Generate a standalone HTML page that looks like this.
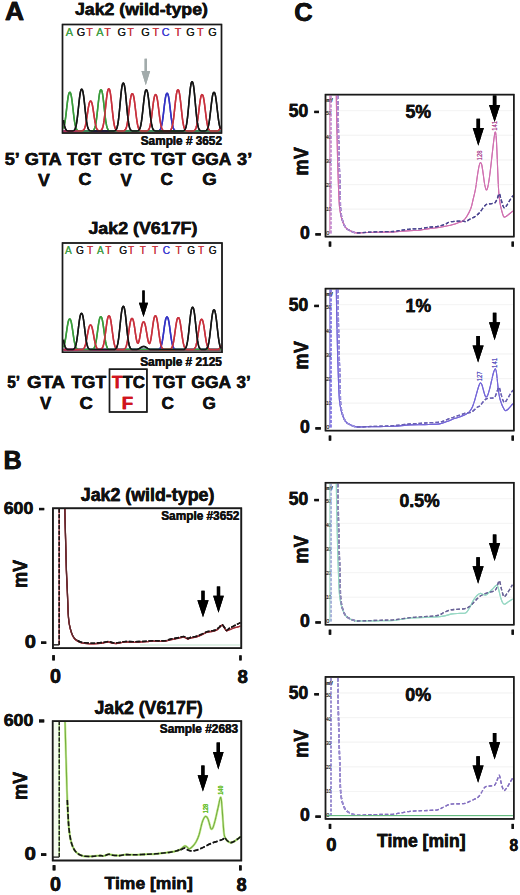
<!DOCTYPE html>
<html><head><meta charset="utf-8"><style>
html,body{margin:0;padding:0;background:#fff;}
svg{display:block;}
text{font-family:"Liberation Sans", sans-serif;}
</style></head><body>
<svg width="520" height="895" viewBox="0 0 520 895">
<rect width="520" height="895" fill="#fff"/>
<text x="5.14" y="19.60" font-size="26.02" font-weight="bold" fill="#111" stroke="#111" stroke-width="0.459" textLength="19.05" lengthAdjust="spacingAndGlyphs">A</text>
<text x="3.51" y="468.50" font-size="25.44" font-weight="bold" fill="#111" stroke="#111" stroke-width="0.449" textLength="18.24" lengthAdjust="spacingAndGlyphs">B</text>
<text x="294.36" y="21.24" font-size="26.69" font-weight="bold" fill="#111" stroke="#111" stroke-width="0.471" textLength="18.34" lengthAdjust="spacingAndGlyphs">C</text>
<text x="74.93" y="15.30" font-size="17.30" font-weight="bold" fill="#111" stroke="#111" stroke-width="0.305" textLength="133.05" lengthAdjust="spacingAndGlyphs">Jak2 (wild-type)</text>
<line x1="63.50" y1="131.80" x2="220.50" y2="131.80" stroke="#c8323e" stroke-width="0.9"/>
<line x1="63.50" y1="131.20" x2="220.50" y2="131.20" stroke="#3434c4" stroke-width="0.6" opacity="0.5"/>
<path d="M63.5,131.00 L157.5,130.97 L158.0,130.93 L158.5,130.85 L159.0,130.69 L159.5,130.40 L160.0,129.90 L160.5,129.10 L161.0,127.89 L161.5,126.14 L162.0,123.77 L162.5,120.76 L163.0,117.13 L163.5,113.04 L164.0,108.71 L164.5,104.45 L165.0,100.58 L165.5,97.39 L166.0,95.09 L166.5,93.75 L167.0,93.31 L167.5,93.48 L168.0,94.44 L168.5,96.35 L169.0,99.21 L169.5,102.84 L170.0,106.98 L170.5,111.32 L171.0,115.54 L171.5,119.37 L172.0,122.64 L172.5,125.27 L173.0,127.26 L173.5,128.67 L174.0,129.62 L174.5,130.23 L175.0,130.59 L175.5,130.79 L176.0,130.90 L176.5,130.96 L177.0,130.98 L220.5,131.00" fill="none" stroke="#3434c4" stroke-width="1.5" stroke-linejoin="round"/>
<path d="M63.5,128.36 L64.0,126.80 L64.5,124.63 L65.0,121.80 L65.5,118.32 L66.0,114.29 L66.5,109.91 L67.0,105.47 L67.5,101.30 L68.0,97.71 L68.5,94.96 L69.0,93.19 L69.5,92.39 L70.0,92.34 L70.5,92.96 L71.0,94.53 L71.5,97.09 L72.0,100.52 L72.5,104.60 L73.0,109.02 L73.5,113.43 L74.0,117.55 L74.5,121.16 L75.0,124.12 L75.5,126.42 L76.0,128.09 L76.5,129.25 L77.0,130.00 L77.5,130.45 L78.0,130.72 L78.5,130.86 L79.0,130.94 L79.5,130.97 L91.0,130.98 L91.5,130.96 L92.0,130.91 L92.5,130.80 L93.0,130.61 L93.5,130.25 L94.0,129.66 L94.5,128.70 L95.0,127.27 L95.5,125.23 L96.0,122.50 L96.5,119.06 L97.0,114.98 L97.5,110.44 L98.0,105.70 L98.5,101.10 L99.0,96.99 L99.5,93.68 L100.0,91.37 L100.5,90.12 L101.0,89.80 L101.5,90.12 L102.0,91.37 L102.5,93.68 L103.0,96.99 L103.5,101.10 L104.0,105.70 L104.5,110.44 L105.0,114.98 L105.5,119.06 L106.0,122.50 L106.5,125.23 L107.0,127.27 L107.5,128.70 L108.0,129.66 L108.5,130.25 L109.0,130.61 L109.5,130.80 L110.0,130.91 L110.5,130.96 L111.0,130.98 L220.5,131.00" fill="none" stroke="#3a9c3c" stroke-width="1.5" stroke-linejoin="round"/>
<path d="M63.5,131.00 L81.0,130.97 L81.5,130.94 L82.0,130.88 L82.5,130.75 L83.0,130.52 L83.5,130.13 L84.0,129.49 L84.5,128.52 L85.0,127.13 L85.5,125.25 L86.0,122.85 L86.5,119.96 L87.0,116.71 L87.5,113.27 L88.0,109.88 L88.5,106.79 L89.0,104.25 L89.5,102.42 L90.0,101.36 L90.5,101.01 L91.0,101.14 L91.5,101.90 L92.0,103.43 L92.5,105.70 L93.0,108.59 L93.5,111.89 L94.0,115.34 L94.5,118.70 L95.0,121.75 L95.5,124.35 L96.0,126.44 L96.5,128.02 L97.0,129.15 L97.5,129.90 L98.0,130.38 L98.5,130.66 L99.0,130.81 L99.5,130.86 L100.0,130.84 L100.5,130.72 L101.0,130.47 L101.5,130.02 L102.0,129.28 L102.5,128.12 L103.0,126.42 L103.5,124.06 L104.0,120.97 L104.5,117.17 L105.0,112.78 L105.5,108.00 L106.0,103.16 L106.5,98.61 L107.0,94.70 L107.5,91.70 L108.0,89.77 L108.5,88.90 L109.0,88.84 L109.5,89.52 L110.0,91.23 L110.5,94.02 L111.0,97.77 L111.5,102.22 L112.0,107.03 L112.5,111.84 L113.0,116.34 L113.5,120.27 L114.0,123.50 L114.5,126.00 L115.0,127.83 L115.5,129.09 L116.0,129.90 L116.5,130.40 L117.0,130.69 L117.5,130.85 L118.0,130.93 L118.5,130.97 L122.5,130.98 L123.0,130.95 L123.5,130.89 L124.0,130.76 L124.5,130.54 L125.0,130.14 L125.5,129.48 L126.0,128.45 L126.5,126.94 L127.0,124.85 L127.5,122.11 L128.0,118.75 L128.5,114.85 L129.0,110.62 L129.5,106.33 L130.0,102.29 L130.5,98.83 L131.0,96.17 L131.5,94.46 L132.0,93.69 L132.5,93.64 L133.0,94.24 L133.5,95.75 L134.0,98.23 L134.5,101.55 L135.0,105.49 L135.5,109.75 L136.0,114.02 L136.5,118.00 L137.0,121.49 L137.5,124.35 L138.0,126.57 L138.5,128.19 L139.0,129.31 L139.5,130.03 L140.0,130.47 L140.5,130.73 L141.0,130.87 L141.5,130.94 L142.0,130.97 L146.0,130.97 L146.5,130.93 L147.0,130.85 L147.5,130.70 L148.0,130.42 L148.5,129.94 L149.0,129.17 L149.5,127.99 L150.0,126.31 L150.5,124.02 L151.0,121.11 L151.5,117.61 L152.0,113.66 L152.5,109.48 L153.0,105.37 L153.5,101.63 L154.0,98.55 L154.5,96.32 L155.0,95.04 L155.5,94.61 L156.0,94.77 L156.5,95.70 L157.0,97.55 L157.5,100.31 L158.0,103.81 L158.5,107.81 L159.0,112.00 L159.5,116.07 L160.0,119.77 L160.5,122.93 L161.0,125.47 L161.5,127.39 L162.0,128.75 L162.5,129.67 L163.0,130.25 L163.5,130.60 L164.0,130.80 L164.5,130.90 L165.0,130.96 L165.5,130.98 L168.0,130.98 L168.5,130.96 L169.0,130.91 L169.5,130.80 L170.0,130.61 L170.5,130.25 L171.0,129.66 L171.5,128.70 L172.0,127.27 L172.5,125.23 L173.0,122.50 L173.5,119.06 L174.0,114.98 L174.5,110.44 L175.0,105.70 L175.5,101.10 L176.0,96.99 L176.5,93.68 L177.0,91.37 L177.5,90.12 L178.0,89.80 L178.5,90.12 L179.0,91.37 L179.5,93.68 L180.0,96.99 L180.5,101.10 L181.0,105.70 L181.5,110.44 L182.0,114.98 L182.5,119.06 L183.0,122.50 L183.5,125.23 L184.0,127.27 L184.5,128.70 L185.0,129.66 L185.5,130.25 L186.0,130.61 L186.5,130.80 L187.0,130.91 L187.5,130.96 L188.0,130.98 L192.5,130.97 L193.0,130.93 L193.5,130.85 L194.0,130.70 L194.5,130.42 L195.0,129.94 L195.5,129.17 L196.0,127.99 L196.5,126.31 L197.0,124.02 L197.5,121.11 L198.0,117.61 L198.5,113.66 L199.0,109.48 L199.5,105.37 L200.0,101.63 L200.5,98.55 L201.0,96.32 L201.5,95.04 L202.0,94.61 L202.5,94.77 L203.0,95.70 L203.5,97.55 L204.0,100.31 L204.5,103.81 L205.0,107.81 L205.5,112.00 L206.0,116.07 L206.5,119.77 L207.0,122.93 L207.5,125.47 L208.0,127.39 L208.5,128.75 L209.0,129.67 L209.5,130.25 L210.0,130.60 L210.5,130.80 L211.0,130.90 L211.5,130.96 L212.0,130.98 L216.5,130.97 L217.0,130.94 L217.5,130.88 L218.0,130.75 L218.5,130.53 L219.0,130.15 L219.5,129.55 L220.0,128.64 L220.5,127.36" fill="none" stroke="#c8323e" stroke-width="1.5" stroke-linejoin="round"/>
<path d="M63.5,120.08 L64.0,123.22 L64.5,125.72 L65.0,127.58 L65.5,128.90 L66.0,129.77 L66.5,130.32 L67.0,130.64 L67.5,130.82 L68.0,130.92 L68.5,130.96 L69.0,130.98 L72.0,130.97 L72.5,130.93 L73.0,130.85 L73.5,130.70 L74.0,130.41 L74.5,129.92 L75.0,129.11 L75.5,127.86 L76.0,126.05 L76.5,123.57 L77.0,120.37 L77.5,116.47 L78.0,112.02 L78.5,107.25 L79.0,102.49 L79.5,98.08 L80.0,94.37 L80.5,91.60 L81.0,89.91 L81.5,89.24 L82.0,89.30 L82.5,90.16 L83.0,92.07 L83.5,95.04 L84.0,98.92 L84.5,103.42 L85.0,108.22 L85.5,112.95 L86.0,117.30 L86.5,121.07 L87.0,124.12 L87.5,126.46 L88.0,128.15 L88.5,129.30 L89.0,130.04 L89.5,130.48 L90.0,130.74 L90.5,130.87 L91.0,130.94 L91.5,130.97 L113.5,130.97 L114.0,130.93 L114.5,130.85 L115.0,130.70 L115.5,130.40 L116.0,129.89 L116.5,129.05 L117.0,127.73 L117.5,125.79 L118.0,123.10 L118.5,119.59 L119.0,115.27 L119.5,110.27 L120.0,104.84 L120.5,99.33 L121.0,94.16 L121.5,89.71 L122.0,86.30 L122.5,84.11 L123.0,83.12 L123.5,83.05 L124.0,83.82 L124.5,85.76 L125.0,88.94 L125.5,93.20 L126.0,98.26 L126.5,103.73 L127.0,109.21 L127.5,114.32 L128.0,118.79 L128.5,122.47 L129.0,125.32 L129.5,127.39 L130.0,128.83 L130.5,129.75 L131.0,130.32 L131.5,130.65 L132.0,130.83 L132.5,130.92 L133.0,130.97 L133.5,130.99 L136.5,130.98 L137.0,130.94 L137.5,130.87 L138.0,130.74 L138.5,130.49 L139.0,130.05 L139.5,129.32 L140.0,128.19 L140.5,126.53 L141.0,124.22 L141.5,121.21 L142.0,117.50 L142.5,113.21 L143.0,108.55 L143.5,103.82 L144.0,99.38 L144.5,95.56 L145.0,92.63 L145.5,90.75 L146.0,89.90 L146.5,89.84 L147.0,90.50 L147.5,92.17 L148.0,94.90 L148.5,98.55 L149.0,102.90 L149.5,107.60 L150.0,112.30 L150.5,116.68 L151.0,120.52 L151.5,123.68 L152.0,126.12 L152.5,127.91 L153.0,129.13 L153.5,129.93 L154.0,130.42 L154.5,130.70 L155.0,130.85 L155.5,130.93 L156.0,130.97 L182.0,130.98 L182.5,130.96 L183.0,130.91 L183.5,130.80 L184.0,130.59 L184.5,130.21 L185.0,129.56 L185.5,128.52 L186.0,126.93 L186.5,124.64 L187.0,121.55 L187.5,117.60 L188.0,112.86 L188.5,107.51 L189.0,101.86 L189.5,96.29 L190.0,91.22 L190.5,87.05 L191.0,84.03 L191.5,82.29 L192.0,81.71 L192.5,81.93 L193.0,83.18 L193.5,85.69 L194.0,89.43 L194.5,94.18 L195.0,99.59 L195.5,105.27 L196.0,110.78 L196.5,115.80 L197.0,120.07 L197.5,123.51 L198.0,126.10 L198.5,127.96 L199.0,129.20 L199.5,129.99 L200.0,130.46 L200.5,130.73 L201.0,130.87 L201.5,130.94 L202.0,130.97 L204.0,130.98 L204.5,130.96 L205.0,130.91 L205.5,130.82 L206.0,130.63 L206.5,130.30 L207.0,129.74 L207.5,128.84 L208.0,127.49 L208.5,125.58 L209.0,123.02 L209.5,119.79 L210.0,115.95 L210.5,111.68 L211.0,107.23 L211.5,102.91 L212.0,99.06 L212.5,95.95 L213.0,93.78 L213.5,92.60 L214.0,92.30 L214.5,92.60 L215.0,93.78 L215.5,95.95 L216.0,99.06 L216.5,102.91 L217.0,107.23 L217.5,111.68 L218.0,115.95 L218.5,119.79 L219.0,123.02 L219.5,125.58 L220.0,127.49 L220.5,128.84" fill="none" stroke="#151515" stroke-width="1.5" stroke-linejoin="round"/>
<rect x="62.50" y="24.50" width="159.00" height="108.50" fill="none" stroke="#1a1a1a" stroke-width="1.4"/>
<text x="69.50" y="36.00" font-size="10.90" font-weight="normal" fill="#43a047" text-anchor="middle">A</text>
<text x="81.00" y="36.00" font-size="10.90" font-weight="normal" fill="#1a1a1a" text-anchor="middle">G</text>
<text x="89.50" y="36.00" font-size="10.90" font-weight="normal" fill="#c8343c" text-anchor="middle">T</text>
<text x="99.80" y="36.00" font-size="10.90" font-weight="normal" fill="#43a047" text-anchor="middle">A</text>
<text x="107.70" y="36.00" font-size="10.90" font-weight="normal" fill="#c8343c" text-anchor="middle">T</text>
<text x="121.70" y="36.00" font-size="10.90" font-weight="normal" fill="#1a1a1a" text-anchor="middle">G</text>
<text x="130.70" y="36.00" font-size="10.90" font-weight="normal" fill="#c8343c" text-anchor="middle">T</text>
<text x="145.40" y="36.00" font-size="10.90" font-weight="normal" fill="#1a1a1a" text-anchor="middle">G</text>
<text x="155.80" y="36.00" font-size="10.90" font-weight="normal" fill="#c8343c" text-anchor="middle">T</text>
<text x="165.60" y="36.00" font-size="10.90" font-weight="normal" fill="#3a3ad0" text-anchor="middle">C</text>
<text x="178.20" y="36.00" font-size="10.90" font-weight="normal" fill="#c8343c" text-anchor="middle">T</text>
<text x="190.60" y="36.00" font-size="10.90" font-weight="normal" fill="#1a1a1a" text-anchor="middle">G</text>
<text x="200.30" y="36.00" font-size="10.90" font-weight="normal" fill="#c8343c" text-anchor="middle">T</text>
<text x="212.40" y="36.00" font-size="10.90" font-weight="normal" fill="#1a1a1a" text-anchor="middle">G</text>
<path d="M144.60,58.70 L147.00,58.70 L147.00,71.00 L150.15,71.00 L145.80,85.20 L141.45,71.00 L144.60,71.00 Z" fill="#a2abab"/>
<text x="140.76" y="145.00" font-size="11.92" font-weight="bold" fill="#111" stroke="#111" stroke-width="0.210" textLength="81.21" lengthAdjust="spacingAndGlyphs">Sample # 3652</text>
<text x="4.74" y="165.00" font-size="16.72" font-weight="bold" fill="#111" stroke="#111" stroke-width="0.295" textLength="15.08" lengthAdjust="spacingAndGlyphs">5’</text>
<text x="24.68" y="165.00" font-size="16.72" font-weight="bold" fill="#111" stroke="#111" stroke-width="0.295" textLength="37.08" lengthAdjust="spacingAndGlyphs">GTA</text>
<text x="67.11" y="165.00" font-size="16.72" font-weight="bold" fill="#111" stroke="#111" stroke-width="0.295" textLength="34.58" lengthAdjust="spacingAndGlyphs">TGT</text>
<text x="108.79" y="165.00" font-size="16.72" font-weight="bold" fill="#111" stroke="#111" stroke-width="0.295" textLength="36.48" lengthAdjust="spacingAndGlyphs">GTC</text>
<text x="151.00" y="165.00" font-size="16.72" font-weight="bold" fill="#111" stroke="#111" stroke-width="0.295" textLength="34.88" lengthAdjust="spacingAndGlyphs">TGT</text>
<text x="191.79" y="165.00" font-size="16.72" font-weight="bold" fill="#111" stroke="#111" stroke-width="0.295" textLength="39.67" lengthAdjust="spacingAndGlyphs">GGA</text>
<text x="237.08" y="165.00" font-size="16.72" font-weight="bold" fill="#111" stroke="#111" stroke-width="0.295" textLength="15.15" lengthAdjust="spacingAndGlyphs">3’</text>
<text x="37.98" y="185.60" font-size="16.13" font-weight="bold" fill="#111" stroke="#111" stroke-width="0.285" textLength="11.84" lengthAdjust="spacingAndGlyphs">V</text>
<text x="78.57" y="185.45" font-size="15.68" font-weight="bold" fill="#111" stroke="#111" stroke-width="0.277" textLength="12.92" lengthAdjust="spacingAndGlyphs">C</text>
<text x="120.58" y="185.60" font-size="16.13" font-weight="bold" fill="#111" stroke="#111" stroke-width="0.285" textLength="11.23" lengthAdjust="spacingAndGlyphs">V</text>
<text x="160.59" y="185.45" font-size="15.68" font-weight="bold" fill="#111" stroke="#111" stroke-width="0.277" textLength="12.48" lengthAdjust="spacingAndGlyphs">C</text>
<text x="202.23" y="185.45" font-size="15.68" font-weight="bold" fill="#111" stroke="#111" stroke-width="0.277" textLength="14.52" lengthAdjust="spacingAndGlyphs">G</text>
<text x="88.43" y="234.20" font-size="16.86" font-weight="bold" fill="#111" stroke="#111" stroke-width="0.298" textLength="108.96" lengthAdjust="spacingAndGlyphs">Jak2 (V617F)</text>
<line x1="63.50" y1="350.30" x2="220.50" y2="350.30" stroke="#c8323e" stroke-width="0.9"/>
<path d="M63.5,349.60 L157.5,349.57 L158.0,349.53 L158.5,349.45 L159.0,349.29 L159.5,349.01 L160.0,348.54 L160.5,347.78 L161.0,346.64 L161.5,345.03 L162.0,342.87 L162.5,340.15 L163.0,336.93 L163.5,333.33 L164.0,329.58 L164.5,325.94 L165.0,322.69 L165.5,320.07 L166.0,318.25 L166.5,317.26 L167.0,317.00 L167.5,317.26 L168.0,318.25 L168.5,320.07 L169.0,322.69 L169.5,325.94 L170.0,329.58 L170.5,333.33 L171.0,336.93 L171.5,340.15 L172.0,342.87 L172.5,345.03 L173.0,346.64 L173.5,347.78 L174.0,348.54 L174.5,349.01 L175.0,349.29 L175.5,349.45 L176.0,349.53 L176.5,349.57 L221.0,349.60" fill="none" stroke="#3434c4" stroke-width="1.5" stroke-linejoin="round"/>
<path d="M63.5,347.30 L64.0,345.98 L64.5,344.16 L65.0,341.82 L65.5,338.97 L66.0,335.71 L66.5,332.22 L67.0,328.73 L67.5,325.50 L68.0,322.78 L68.5,320.76 L69.0,319.52 L69.5,319.03 L70.0,319.07 L70.5,319.71 L71.0,321.10 L71.5,323.28 L72.0,326.11 L72.5,329.41 L73.0,332.92 L73.5,336.39 L74.0,339.57 L74.5,342.33 L75.0,344.57 L75.5,346.28 L76.0,347.51 L76.5,348.35 L77.0,348.89 L77.5,349.22 L78.0,349.41 L78.5,349.51 L79.0,349.56 L79.5,349.58 L91.0,349.58 L91.5,349.55 L92.0,349.50 L92.5,349.39 L93.0,349.19 L93.5,348.84 L94.0,348.26 L94.5,347.36 L95.0,346.03 L95.5,344.19 L96.0,341.78 L96.5,338.82 L97.0,335.39 L97.5,331.67 L98.0,327.90 L98.5,324.35 L99.0,321.30 L99.5,318.96 L100.0,317.46 L100.5,316.78 L101.0,316.73 L101.5,317.26 L102.0,318.59 L102.5,320.77 L103.0,323.69 L103.5,327.16 L104.0,330.91 L104.5,334.66 L105.0,338.17 L105.5,341.23 L106.0,343.75 L106.5,345.70 L107.0,347.13 L107.5,348.11 L108.0,348.75 L108.5,349.14 L109.0,349.36 L109.5,349.48 L110.0,349.55 L110.5,349.58 L221.0,349.60" fill="none" stroke="#3a9c3c" stroke-width="1.5" stroke-linejoin="round"/>
<path d="M63.5,349.60 L81.0,349.58 L81.5,349.54 L82.0,349.48 L82.5,349.37 L83.0,349.15 L83.5,348.80 L84.0,348.23 L84.5,347.37 L85.0,346.15 L85.5,344.53 L86.0,342.47 L86.5,340.04 L87.0,337.32 L87.5,334.49 L88.0,331.75 L88.5,329.29 L89.0,327.32 L89.5,325.94 L90.0,325.19 L90.5,325.00 L91.0,325.19 L91.5,325.94 L92.0,327.32 L92.5,329.29 L93.0,331.75 L93.5,334.49 L94.0,337.32 L94.5,340.04 L95.0,342.47 L95.5,344.53 L96.0,346.15 L96.5,347.37 L97.0,348.23 L97.5,348.80 L98.0,349.15 L98.5,349.36 L99.0,349.47 L99.5,349.51 L100.0,349.50 L100.5,349.43 L101.0,349.27 L101.5,348.99 L102.0,348.50 L102.5,347.71 L103.0,346.54 L103.5,344.86 L104.0,342.63 L104.5,339.81 L105.0,336.46 L105.5,332.73 L106.0,328.84 L106.5,325.07 L107.0,321.70 L107.5,318.99 L108.0,317.09 L108.5,316.07 L109.0,315.80 L109.5,316.07 L110.0,317.09 L110.5,318.99 L111.0,321.70 L111.5,325.07 L112.0,328.84 L112.5,332.73 L113.0,336.46 L113.5,339.81 L114.0,342.63 L114.5,344.86 L115.0,346.54 L115.5,347.71 L116.0,348.50 L116.5,348.99 L117.0,349.28 L117.5,349.44 L118.0,349.52 L118.5,349.57 L122.5,349.57 L123.0,349.53 L123.5,349.45 L124.0,349.30 L124.5,349.03 L125.0,348.58 L125.5,347.86 L126.0,346.77 L126.5,345.23 L127.0,343.16 L127.5,340.56 L128.0,337.47 L128.5,334.03 L129.0,330.44 L129.5,326.96 L130.0,323.85 L130.5,321.34 L131.0,319.59 L131.5,318.65 L132.0,318.40 L132.5,318.64 L133.0,319.59 L133.5,321.33 L134.0,323.82 L134.5,326.90 L135.0,330.32 L135.5,333.80 L136.0,337.03 L136.5,339.75 L137.0,341.77 L137.5,342.94 L138.0,343.20 L138.5,342.55 L139.0,341.06 L139.5,338.84 L140.0,336.11 L140.5,333.08 L141.0,330.03 L141.5,327.22 L142.0,324.89 L142.5,323.21 L143.0,322.23 L143.5,321.90 L144.0,322.03 L144.5,322.73 L145.0,324.14 L145.5,326.23 L146.0,328.87 L146.5,331.87 L147.0,334.96 L147.5,337.87 L148.0,340.37 L148.5,342.23 L149.0,343.30 L149.5,343.49 L150.0,342.75 L150.5,341.10 L151.0,338.61 L151.5,335.44 L152.0,331.81 L152.5,328.00 L153.0,324.32 L153.5,321.08 L154.0,318.53 L154.5,316.82 L155.0,315.96 L155.5,315.81 L156.0,316.20 L156.5,317.40 L157.0,319.47 L157.5,322.33 L158.0,325.80 L158.5,329.62 L159.0,333.50 L159.5,337.17 L160.0,340.42 L160.5,343.12 L161.0,345.24 L161.5,346.81 L162.0,347.90 L162.5,348.62 L163.0,349.06 L163.5,349.32 L164.0,349.46 L164.5,349.54 L165.0,349.57 L168.5,349.58 L169.0,349.56 L169.5,349.50 L170.0,349.40 L170.5,349.20 L171.0,348.86 L171.5,348.30 L172.0,347.42 L172.5,346.13 L173.0,344.34 L173.5,342.00 L174.0,339.11 L174.5,335.78 L175.0,332.16 L175.5,328.49 L176.0,325.04 L176.5,322.07 L177.0,319.80 L177.5,318.34 L178.0,317.68 L178.5,317.63 L179.0,318.14 L179.5,319.44 L180.0,321.56 L180.5,324.40 L181.0,327.77 L181.5,331.42 L182.0,335.07 L182.5,338.48 L183.0,341.46 L183.5,343.91 L184.0,345.81 L184.5,347.20 L185.0,348.15 L185.5,348.77 L186.0,349.15 L186.5,349.37 L187.0,349.49 L187.5,349.55 L188.0,349.58 L192.0,349.57 L192.5,349.54 L193.0,349.48 L193.5,349.35 L194.0,349.12 L194.5,348.72 L195.0,348.07 L195.5,347.10 L196.0,345.69 L196.5,343.79 L197.0,341.37 L197.5,338.45 L198.0,335.16 L198.5,331.69 L199.0,328.26 L199.5,325.15 L200.0,322.59 L200.5,320.73 L201.0,319.66 L201.5,319.31 L202.0,319.44 L202.5,320.21 L203.0,321.75 L203.5,324.05 L204.0,326.97 L204.5,330.30 L205.0,333.78 L205.5,337.17 L206.0,340.26 L206.5,342.88 L207.0,345.00 L207.5,346.59 L208.0,347.73 L208.5,348.49 L209.0,348.98 L209.5,349.27 L210.0,349.43 L210.5,349.52 L211.0,349.56 L211.5,349.58 L216.5,349.58 L217.0,349.56 L217.5,349.51 L218.0,349.41 L218.5,349.24 L219.0,348.96 L219.5,348.51 L220.0,347.82 L220.5,346.85 L221.0,345.56" fill="none" stroke="#c8323e" stroke-width="1.5" stroke-linejoin="round"/>
<path d="M63.5,339.75 L64.0,342.59 L64.5,344.84 L65.0,346.52 L65.5,347.70 L66.0,348.49 L66.5,348.98 L67.0,349.28 L67.5,349.44 L68.0,349.52 L68.5,349.57 L71.5,349.58 L72.0,349.56 L72.5,349.52 L73.0,349.43 L73.5,349.25 L74.0,348.94 L74.5,348.42 L75.0,347.57 L75.5,346.31 L76.0,344.51 L76.5,342.11 L77.0,339.08 L77.5,335.49 L78.0,331.48 L78.5,327.31 L79.0,323.25 L79.5,319.64 L80.0,316.72 L80.5,314.69 L81.0,313.59 L81.5,313.30 L82.0,313.59 L82.5,314.69 L83.0,316.72 L83.5,319.64 L84.0,323.25 L84.5,327.31 L85.0,331.48 L85.5,335.49 L86.0,339.08 L86.5,342.11 L87.0,344.51 L87.5,346.31 L88.0,347.57 L88.5,348.42 L89.0,348.94 L89.5,349.25 L90.0,349.43 L90.5,349.52 L91.0,349.56 L91.5,349.58 L113.5,349.57 L114.0,349.54 L114.5,349.47 L115.0,349.33 L115.5,349.06 L116.0,348.60 L116.5,347.84 L117.0,346.65 L117.5,344.90 L118.0,342.48 L118.5,339.31 L119.0,335.41 L119.5,330.90 L120.0,326.00 L120.5,321.03 L121.0,316.37 L121.5,312.35 L122.0,309.28 L122.5,307.30 L123.0,306.41 L123.5,306.34 L124.0,307.04 L124.5,308.79 L125.0,311.66 L125.5,315.50 L126.0,320.07 L126.5,325.00 L127.0,329.94 L127.5,334.55 L128.0,338.59 L128.5,341.90 L129.0,344.47 L129.5,346.35 L130.0,347.64 L130.5,348.48 L131.0,348.99 L131.5,349.29 L132.0,349.45 L132.5,349.53 L133.0,349.57 L135.5,349.57 L136.0,349.55 L136.5,349.51 L137.0,349.44 L137.5,349.34 L138.0,349.20 L138.5,349.01 L139.0,348.76 L139.5,348.46 L140.0,348.12 L140.5,347.77 L141.0,347.42 L141.5,347.10 L142.0,346.84 L142.5,346.65 L143.0,346.54 L143.5,346.50 L144.0,346.51 L144.5,346.59 L145.0,346.75 L145.5,346.99 L146.0,347.28 L146.5,347.63 L147.0,347.98 L147.5,348.33 L148.0,348.64 L148.5,348.91 L149.0,349.13 L149.5,349.29 L150.0,349.41 L150.5,349.49 L151.0,349.54 L151.5,349.57 L182.5,349.59 L183.0,349.56 L183.5,349.52 L184.0,349.43 L184.5,349.25 L185.0,348.92 L185.5,348.36 L186.0,347.47 L186.5,346.10 L187.0,344.13 L187.5,341.47 L188.0,338.08 L188.5,334.00 L189.0,329.40 L189.5,324.54 L190.0,319.74 L190.5,315.39 L191.0,311.80 L191.5,309.21 L192.0,307.71 L192.5,307.21 L193.0,307.40 L193.5,308.48 L194.0,310.63 L194.5,313.85 L195.0,317.93 L195.5,322.59 L196.0,327.47 L196.5,332.21 L197.0,336.52 L197.5,340.20 L198.0,343.16 L198.5,345.39 L199.0,346.98 L199.5,348.05 L200.0,348.73 L200.5,349.14 L201.0,349.37 L201.5,349.49 L202.0,349.55 L202.5,349.58 L204.0,349.58 L204.5,349.56 L205.0,349.51 L205.5,349.41 L206.0,349.22 L206.5,348.88 L207.0,348.30 L207.5,347.38 L208.0,345.99 L208.5,344.02 L209.0,341.39 L209.5,338.07 L210.0,334.13 L210.5,329.74 L211.0,325.16 L211.5,320.71 L212.0,316.75 L212.5,313.55 L213.0,311.32 L213.5,310.11 L214.0,309.80 L214.5,310.11 L215.0,311.32 L215.5,313.55 L216.0,316.75 L216.5,320.71 L217.0,325.16 L217.5,329.74 L218.0,334.13 L218.5,338.07 L219.0,341.39 L219.5,344.02 L220.0,345.99 L220.5,347.38 L221.0,348.30" fill="none" stroke="#151515" stroke-width="1.5" stroke-linejoin="round"/>
<rect x="62.50" y="243.00" width="159.50" height="109.30" fill="none" stroke="#1a1a1a" stroke-width="1.4"/>
<text x="68.50" y="254.00" font-size="10.17" font-weight="normal" fill="#43a047" text-anchor="middle">A</text>
<text x="79.90" y="254.00" font-size="10.17" font-weight="normal" fill="#1a1a1a" text-anchor="middle">G</text>
<text x="90.10" y="254.00" font-size="10.17" font-weight="normal" fill="#c8343c" text-anchor="middle">T</text>
<text x="100.30" y="254.00" font-size="10.17" font-weight="normal" fill="#43a047" text-anchor="middle">A</text>
<text x="108.30" y="254.00" font-size="10.17" font-weight="normal" fill="#c8343c" text-anchor="middle">T</text>
<text x="123.10" y="254.00" font-size="10.17" font-weight="normal" fill="#1a1a1a" text-anchor="middle">G</text>
<text x="131.10" y="254.00" font-size="10.17" font-weight="normal" fill="#c8343c" text-anchor="middle">T</text>
<text x="142.90" y="254.00" font-size="10.17" font-weight="normal" fill="#c8343c" text-anchor="middle">T</text>
<text x="155.00" y="254.00" font-size="10.17" font-weight="normal" fill="#c8343c" text-anchor="middle">T</text>
<text x="166.30" y="254.00" font-size="10.17" font-weight="normal" fill="#3a3ad0" text-anchor="middle">C</text>
<text x="178.50" y="254.00" font-size="10.17" font-weight="normal" fill="#c8343c" text-anchor="middle">T</text>
<text x="191.20" y="254.00" font-size="10.17" font-weight="normal" fill="#1a1a1a" text-anchor="middle">G</text>
<text x="201.10" y="254.00" font-size="10.17" font-weight="normal" fill="#c8343c" text-anchor="middle">T</text>
<text x="212.80" y="254.00" font-size="10.17" font-weight="normal" fill="#1a1a1a" text-anchor="middle">G</text>
<path d="M142.35,290.40 L144.65,290.40 L144.65,302.80 L148.05,302.80 L143.50,316.90 L138.95,302.80 L142.35,302.80 Z" fill="#000"/>
<text x="140.16" y="365.50" font-size="12.65" font-weight="bold" fill="#111" stroke="#111" stroke-width="0.223" textLength="81.67" lengthAdjust="spacingAndGlyphs">Sample # 2125</text>
<text x="7.23" y="387.90" font-size="16.28" font-weight="bold" fill="#111" stroke="#111" stroke-width="0.287" textLength="12.82" lengthAdjust="spacingAndGlyphs">5’</text>
<text x="26.96" y="387.90" font-size="16.28" font-weight="bold" fill="#111" stroke="#111" stroke-width="0.287" textLength="38.12" lengthAdjust="spacingAndGlyphs">GTA</text>
<text x="71.20" y="387.90" font-size="16.28" font-weight="bold" fill="#111" stroke="#111" stroke-width="0.287" textLength="34.98" lengthAdjust="spacingAndGlyphs">TGT</text>
<text x="152.82" y="387.90" font-size="16.28" font-weight="bold" fill="#111" stroke="#111" stroke-width="0.287" textLength="32.56" lengthAdjust="spacingAndGlyphs">TGT</text>
<text x="191.28" y="387.90" font-size="16.28" font-weight="bold" fill="#111" stroke="#111" stroke-width="0.287" textLength="39.88" lengthAdjust="spacingAndGlyphs">GGA</text>
<text x="236.61" y="387.90" font-size="16.28" font-weight="bold" fill="#111" stroke="#111" stroke-width="0.287" textLength="14.25" lengthAdjust="spacingAndGlyphs">3’</text>
<text x="112.11" y="387.90" font-size="16.28" font-weight="bold" fill="#111" stroke="#111" stroke-width="0.287" textLength="32.95" lengthAdjust="spacingAndGlyphs"><tspan fill="#d0141e" stroke="#d0141e">T</tspan>TC</text>
<text x="40.08" y="409.00" font-size="16.86" font-weight="bold" fill="#111" stroke="#111" stroke-width="0.298" textLength="11.23" lengthAdjust="spacingAndGlyphs">V</text>
<text x="79.54" y="408.84" font-size="16.38" font-weight="bold" fill="#111" stroke="#111" stroke-width="0.289" textLength="13.37" lengthAdjust="spacingAndGlyphs">C</text>
<text x="121.85" y="409.00" font-size="16.86" font-weight="bold" fill="#d0141e" stroke="#d0141e" stroke-width="0.298" textLength="11.44" lengthAdjust="spacingAndGlyphs">F</text>
<text x="161.59" y="408.84" font-size="16.38" font-weight="bold" fill="#111" stroke="#111" stroke-width="0.289" textLength="12.48" lengthAdjust="spacingAndGlyphs">C</text>
<text x="202.49" y="408.84" font-size="16.38" font-weight="bold" fill="#111" stroke="#111" stroke-width="0.289" textLength="13.37" lengthAdjust="spacingAndGlyphs">G</text>
<rect x="109.50" y="369.20" width="37.40" height="42.80" fill="none" stroke="#1a1a1a" stroke-width="1.4"/>
<text x="80.73" y="500.50" font-size="18.46" font-weight="bold" fill="#111" stroke="#111" stroke-width="0.326" textLength="133.66" lengthAdjust="spacingAndGlyphs">Jak2 (wild-type)</text>
<text x="161.26" y="520.20" font-size="12.50" font-weight="bold" fill="#111" stroke="#111" stroke-width="0.221" textLength="78.11" lengthAdjust="spacingAndGlyphs">Sample #3652</text>
<text x="3.75" y="513.84" font-size="16.24" font-weight="bold" fill="#111" stroke="#111" stroke-width="0.287" textLength="29.58" lengthAdjust="spacingAndGlyphs">600</text>
<rect x="39.00" y="507.90" width="5.20" height="2.30" fill="#111"/>
<text x="24.80" y="647.52" font-size="18.36" font-weight="bold" fill="#111" stroke="#111" stroke-width="0.324" textLength="11.23" lengthAdjust="spacingAndGlyphs">0</text>
<rect x="41.00" y="641.50" width="5.25" height="2.40" fill="#111"/>
<text transform="translate(26.90,588.00) rotate(-90)" x="0" y="0" font-size="19.77" font-weight="bold" fill="#111" stroke="#111" stroke-width="0.349" textLength="28.22" lengthAdjust="spacingAndGlyphs">mV</text>
<rect x="52.30" y="655.20" width="2.50" height="5.20" fill="#111"/>
<rect x="239.30" y="655.40" width="2.30" height="5.00" fill="#111"/>
<text x="50.02" y="682.51" font-size="19.63" font-weight="bold" fill="#111" stroke="#111" stroke-width="0.346" textLength="10.99" lengthAdjust="spacingAndGlyphs">0</text>
<text x="237.41" y="682.51" font-size="19.07" font-weight="bold" fill="#111" stroke="#111" stroke-width="0.336" textLength="10.36" lengthAdjust="spacingAndGlyphs">8</text>
<line x1="140.00" y1="645.00" x2="240.50" y2="645.00" stroke="#cfe8d8" stroke-width="0.8"/>
<path d="M53.0,644.80 L59.2,644.80" fill="none" stroke="#333" stroke-width="1.2" stroke-linejoin="round"/>
<line x1="59.20" y1="644.80" x2="59.20" y2="508.50" stroke="#c8323e" stroke-width="1.3" opacity="0.5"/>
<line x1="59.20" y1="644.80" x2="59.20" y2="508.50" stroke="#111" stroke-width="1.3" stroke-dasharray="4,1.5"/>
<path d="M64.80,509.00 C64.93,514.25 65.33,530.25 65.60,540.50 C65.87,550.75 66.12,562.17 66.40,570.50 C66.68,578.83 67.00,583.33 67.30,590.50 C67.60,597.67 67.92,608.17 68.20,613.50 C68.48,618.83 68.67,620.00 69.00,622.50 C69.33,625.00 69.78,626.75 70.20,628.50 C70.62,630.25 71.03,631.67 71.50,633.00 C71.97,634.33 72.42,635.45 73.00,636.50 C73.58,637.55 74.22,638.52 75.00,639.30 C75.78,640.08 76.78,640.67 77.70,641.20 C78.62,641.73 79.35,642.15 80.50,642.50 C81.65,642.85 82.38,643.08 84.60,643.30 C86.82,643.52 90.73,643.85 93.80,643.80 C96.87,643.75 100.55,643.30 103.00,643.00 C105.45,642.70 107.00,641.98 108.50,642.00 C110.00,642.02 110.70,642.85 112.00,643.10 C113.30,643.35 114.80,643.57 116.30,643.50 C117.80,643.43 119.42,642.95 121.00,642.70 C122.58,642.45 123.80,642.07 125.80,642.00 C127.80,641.93 130.53,642.30 133.00,642.30 C135.47,642.30 138.27,642.10 140.60,642.00 C142.93,641.90 144.98,641.83 147.00,641.70 C149.02,641.57 150.87,641.25 152.70,641.20 C154.53,641.15 155.95,641.40 158.00,641.40 C160.05,641.40 163.00,641.45 165.00,641.20 C167.00,640.95 168.47,640.27 170.00,639.90 C171.53,639.53 172.70,639.30 174.20,639.00 C175.70,638.70 177.45,638.43 179.00,638.10 C180.55,637.77 182.33,637.00 183.50,637.00 C184.67,637.00 185.25,637.77 186.00,638.10 C186.75,638.43 187.17,639.03 188.00,639.00 C188.83,638.97 189.70,638.23 191.00,637.90 C192.30,637.57 194.13,637.47 195.80,637.00 C197.47,636.53 199.22,635.85 201.00,635.10 C202.78,634.35 204.83,633.10 206.50,632.50 C208.17,631.90 209.45,631.83 211.00,631.50 C212.55,631.17 214.38,631.17 215.80,630.50 C217.22,629.83 218.43,628.38 219.50,627.50 C220.57,626.62 221.37,625.10 222.20,625.20 C223.03,625.30 223.78,627.15 224.50,628.10 C225.22,629.05 225.67,630.63 226.50,630.90 C227.33,631.17 228.47,630.10 229.50,629.70 C230.53,629.30 231.53,628.90 232.70,628.50 C233.87,628.10 235.20,627.70 236.50,627.30 C237.80,626.90 239.83,626.30 240.50,626.10" fill="none" stroke="#a0303a" stroke-width="1.3" stroke-linejoin="round"/>
<path d="M64.80,508.50 C64.93,513.75 65.33,529.75 65.60,540.00 C65.87,550.25 66.12,561.67 66.40,570.00 C66.68,578.33 67.00,582.83 67.30,590.00 C67.60,597.17 67.92,607.67 68.20,613.00 C68.48,618.33 68.67,619.50 69.00,622.00 C69.33,624.50 69.78,626.25 70.20,628.00 C70.62,629.75 71.03,631.17 71.50,632.50 C71.97,633.83 72.42,634.95 73.00,636.00 C73.58,637.05 74.22,638.02 75.00,638.80 C75.78,639.58 77.25,640.38 77.70,640.70" fill="none" stroke="#5a2a2e" stroke-width="1.2" stroke-linejoin="round"/>
<path d="M77.70,640.70 C78.17,640.92 79.35,641.65 80.50,642.00 C81.65,642.35 82.38,642.58 84.60,642.80 C86.82,643.02 90.73,643.35 93.80,643.30 C96.87,643.25 100.55,642.80 103.00,642.50 C105.45,642.20 107.00,641.48 108.50,641.50 C110.00,641.52 110.70,642.35 112.00,642.60 C113.30,642.85 114.80,643.07 116.30,643.00 C117.80,642.93 119.42,642.45 121.00,642.20 C122.58,641.95 123.80,641.57 125.80,641.50 C127.80,641.43 130.53,641.80 133.00,641.80 C135.47,641.80 138.27,641.60 140.60,641.50 C142.93,641.40 144.98,641.33 147.00,641.20 C149.02,641.07 150.87,640.75 152.70,640.70 C154.53,640.65 155.95,640.90 158.00,640.90 C160.05,640.90 163.00,640.95 165.00,640.70 C167.00,640.45 168.47,639.77 170.00,639.40 C171.53,639.03 172.70,638.80 174.20,638.50 C175.70,638.20 177.45,637.93 179.00,637.60 C180.55,637.27 182.33,636.50 183.50,636.50 C184.67,636.50 185.25,637.27 186.00,637.60 C186.75,637.93 187.17,638.53 188.00,638.50 C188.83,638.47 189.70,637.73 191.00,637.40 C192.30,637.07 194.13,636.97 195.80,636.50 C197.47,636.03 199.22,635.35 201.00,634.60 C202.78,633.85 204.83,632.60 206.50,632.00 C208.17,631.40 209.45,631.33 211.00,631.00 C212.55,630.67 214.38,630.67 215.80,630.00 C217.22,629.33 218.43,627.88 219.50,627.00 C220.57,626.12 221.37,624.60 222.20,624.70 C223.03,624.80 223.78,626.65 224.50,627.60 C225.22,628.55 225.67,630.30 226.50,630.40 C227.33,630.50 228.47,628.83 229.50,628.20 C230.53,627.57 231.53,627.20 232.70,626.60 C233.87,626.00 235.20,625.27 236.50,624.60 C237.80,623.93 239.83,622.93 240.50,622.60" fill="none" stroke="#1a1212" stroke-width="1.6" stroke-linejoin="round" stroke-dasharray="5,1.5"/>
<rect x="52.90" y="508.30" width="188.40" height="139.90" fill="none" stroke="#1a1a1a" stroke-width="1.6"/>
<path d="M201.40,590.80 L204.60,590.80 L204.60,600.20 L208.60,600.20 L203.00,617.30 L197.40,600.20 L201.40,600.20 Z" fill="#000"/>
<path d="M216.85,586.50 L220.15,586.50 L220.15,595.80 L223.85,595.80 L218.50,612.70 L213.15,595.80 L216.85,595.80 Z" fill="#000"/>
<text x="94.53" y="714.00" font-size="18.46" font-weight="bold" fill="#111" stroke="#111" stroke-width="0.326" textLength="108.05" lengthAdjust="spacingAndGlyphs">Jak2 (V617F)</text>
<text x="159.86" y="733.00" font-size="12.65" font-weight="bold" fill="#111" stroke="#111" stroke-width="0.223" textLength="78.27" lengthAdjust="spacingAndGlyphs">Sample #2683</text>
<text x="3.75" y="725.74" font-size="16.38" font-weight="bold" fill="#111" stroke="#111" stroke-width="0.289" textLength="29.58" lengthAdjust="spacingAndGlyphs">600</text>
<rect x="39.00" y="719.50" width="5.20" height="2.90" fill="#111"/>
<text x="24.59" y="859.62" font-size="18.36" font-weight="bold" fill="#111" stroke="#111" stroke-width="0.324" textLength="11.46" lengthAdjust="spacingAndGlyphs">0</text>
<rect x="41.00" y="853.30" width="5.25" height="2.60" fill="#111"/>
<text transform="translate(26.90,800.00) rotate(-90)" x="0" y="0" font-size="19.48" font-weight="bold" fill="#111" stroke="#111" stroke-width="0.344" textLength="28.22" lengthAdjust="spacingAndGlyphs">mV</text>
<rect x="52.70" y="865.20" width="2.70" height="5.20" fill="#111"/>
<rect x="239.10" y="865.40" width="2.50" height="5.00" fill="#111"/>
<text x="50.02" y="891.01" font-size="19.35" font-weight="bold" fill="#111" stroke="#111" stroke-width="0.341" textLength="10.99" lengthAdjust="spacingAndGlyphs">0</text>
<text x="236.42" y="891.02" font-size="18.64" font-weight="bold" fill="#111" stroke="#111" stroke-width="0.329" textLength="10.14" lengthAdjust="spacingAndGlyphs">8</text>
<text x="104.60" y="889.20" font-size="16.72" font-weight="bold" fill="#111" stroke="#111" stroke-width="0.295" textLength="88.28" lengthAdjust="spacingAndGlyphs">Time [min]</text>
<rect x="53.5" y="722" width="6" height="135" fill="#f5fcee"/>
<path d="M53.0,857.00 L59.2,857.00" fill="none" stroke="#333" stroke-width="1.2" stroke-linejoin="round"/>
<line x1="59.20" y1="857.00" x2="59.20" y2="721.50" stroke="#7ccc3a" stroke-width="1.3" opacity="0.6"/>
<line x1="59.20" y1="857.00" x2="59.20" y2="721.50" stroke="#111" stroke-width="1.3" stroke-dasharray="4,1.5"/>
<path d="M65.00,721.50 C65.13,726.25 65.53,740.58 65.80,750.00 C66.07,759.42 66.35,769.67 66.60,778.00 C66.85,786.33 66.98,792.50 67.30,800.00 C67.62,807.50 68.13,817.50 68.50,823.00 C68.87,828.50 69.12,830.10 69.50,833.00 C69.88,835.90 70.33,838.32 70.80,840.40 C71.27,842.48 71.73,843.97 72.30,845.50 C72.87,847.03 73.53,848.47 74.20,849.60 C74.87,850.73 75.53,851.53 76.30,852.30 C77.07,853.07 77.93,853.67 78.80,854.20 C79.67,854.73 80.47,855.15 81.50,855.50 C82.53,855.85 83.25,856.15 85.00,856.30 C86.75,856.45 89.50,856.52 92.00,856.40 C94.50,856.28 98.17,855.67 100.00,855.60 C101.83,855.53 102.00,856.07 103.00,856.00 C104.00,855.93 105.03,855.50 106.00,855.20 C106.97,854.90 107.63,854.20 108.80,854.20 C109.97,854.20 111.27,854.97 113.00,855.20 C114.73,855.43 117.53,855.63 119.20,855.60 C120.87,855.57 121.72,855.17 123.00,855.00 C124.28,854.83 124.90,854.63 126.90,854.60 C128.90,854.57 131.48,854.87 135.00,854.80 C138.52,854.73 144.50,854.37 148.00,854.20 C151.50,854.03 153.42,854.00 156.00,853.80 C158.58,853.60 161.17,853.27 163.50,853.00 C165.83,852.73 167.75,852.57 170.00,852.20 C172.25,851.83 175.17,851.33 177.00,850.80 C178.83,850.27 179.73,849.80 181.00,849.00 C182.27,848.20 183.60,846.33 184.60,846.00 C185.60,845.67 186.20,846.53 187.00,847.00 C187.80,847.47 188.48,848.88 189.40,848.80 C190.32,848.72 191.40,847.63 192.50,846.50 C193.60,845.37 194.92,843.92 196.00,842.00 C197.08,840.08 198.00,838.17 199.00,835.00 C200.00,831.83 201.17,825.83 202.00,823.00 C202.83,820.17 203.37,819.12 204.00,818.00 C204.63,816.88 205.17,816.22 205.80,816.30 C206.43,816.38 207.18,817.22 207.80,818.50 C208.42,819.78 208.97,822.28 209.50,824.00 C210.03,825.72 210.42,828.22 211.00,828.80 C211.58,829.38 212.25,829.13 213.00,827.50 C213.75,825.87 214.67,822.25 215.50,819.00 C216.33,815.75 217.12,811.62 218.00,808.00 C218.88,804.38 220.10,796.97 220.80,797.30 C221.50,797.63 221.75,804.88 222.20,810.00 C222.65,815.12 223.12,823.63 223.50,828.00 C223.88,832.37 223.92,834.12 224.50,836.20 C225.08,838.28 226.00,839.43 227.00,840.50 C228.00,841.57 229.33,842.43 230.50,842.60 C231.67,842.77 232.92,842.02 234.00,841.50 C235.08,840.98 235.83,840.33 237.00,839.50 C238.17,838.67 240.33,837.00 241.00,836.50" fill="none" stroke="#d8f5b0" stroke-width="2.2" stroke-linejoin="round"/>
<path d="M65.00,721.50 C65.13,726.25 65.53,740.58 65.80,750.00 C66.07,759.42 66.35,769.67 66.60,778.00 C66.85,786.33 66.98,792.50 67.30,800.00 C67.62,807.50 68.13,817.50 68.50,823.00 C68.87,828.50 69.12,830.10 69.50,833.00 C69.88,835.90 70.33,838.32 70.80,840.40 C71.27,842.48 71.73,843.97 72.30,845.50 C72.87,847.03 73.53,848.47 74.20,849.60 C74.87,850.73 75.53,851.53 76.30,852.30 C77.07,853.07 77.93,853.67 78.80,854.20 C79.67,854.73 80.47,855.15 81.50,855.50 C82.53,855.85 83.25,856.15 85.00,856.30 C86.75,856.45 89.50,856.52 92.00,856.40 C94.50,856.28 98.17,855.67 100.00,855.60 C101.83,855.53 102.00,856.07 103.00,856.00 C104.00,855.93 105.03,855.50 106.00,855.20 C106.97,854.90 107.63,854.20 108.80,854.20 C109.97,854.20 111.27,854.97 113.00,855.20 C114.73,855.43 117.53,855.63 119.20,855.60 C120.87,855.57 121.72,855.17 123.00,855.00 C124.28,854.83 124.90,854.63 126.90,854.60 C128.90,854.57 131.48,854.87 135.00,854.80 C138.52,854.73 144.50,854.37 148.00,854.20 C151.50,854.03 153.42,854.00 156.00,853.80 C158.58,853.60 161.17,853.27 163.50,853.00 C165.83,852.73 167.75,852.57 170.00,852.20 C172.25,851.83 175.17,851.33 177.00,850.80 C178.83,850.27 179.73,849.80 181.00,849.00 C182.27,848.20 183.60,846.33 184.60,846.00 C185.60,845.67 186.20,846.53 187.00,847.00 C187.80,847.47 188.48,848.88 189.40,848.80 C190.32,848.72 191.40,847.63 192.50,846.50 C193.60,845.37 194.92,843.92 196.00,842.00 C197.08,840.08 198.00,838.17 199.00,835.00 C200.00,831.83 201.17,825.83 202.00,823.00 C202.83,820.17 203.37,819.12 204.00,818.00 C204.63,816.88 205.17,816.22 205.80,816.30 C206.43,816.38 207.18,817.22 207.80,818.50 C208.42,819.78 208.97,822.28 209.50,824.00 C210.03,825.72 210.42,828.22 211.00,828.80 C211.58,829.38 212.25,829.13 213.00,827.50 C213.75,825.87 214.67,822.25 215.50,819.00 C216.33,815.75 217.12,811.62 218.00,808.00 C218.88,804.38 220.10,796.97 220.80,797.30 C221.50,797.63 221.75,804.88 222.20,810.00 C222.65,815.12 223.12,823.63 223.50,828.00 C223.88,832.37 223.92,834.12 224.50,836.20 C225.08,838.28 226.00,839.43 227.00,840.50 C228.00,841.57 229.33,842.43 230.50,842.60 C231.67,842.77 232.92,842.02 234.00,841.50 C235.08,840.98 235.83,840.33 237.00,839.50 C238.17,838.67 240.33,837.00 241.00,836.50" fill="none" stroke="#78b040" stroke-width="1.2" stroke-linejoin="round"/>
<path d="M67.30,800.00 C67.50,803.83 68.13,817.50 68.50,823.00 C68.87,828.50 69.12,830.10 69.50,833.00 C69.88,835.90 70.33,838.32 70.80,840.40 C71.27,842.48 71.73,843.97 72.30,845.50 C72.87,847.03 73.53,848.47 74.20,849.60 C74.87,850.73 75.53,851.53 76.30,852.30 C77.07,853.07 77.93,853.67 78.80,854.20 C79.67,854.73 80.47,855.15 81.50,855.50 C82.53,855.85 83.25,856.15 85.00,856.30 C86.75,856.45 89.50,856.52 92.00,856.40 C94.50,856.28 98.17,855.67 100.00,855.60 C101.83,855.53 102.00,856.07 103.00,856.00 C104.00,855.93 105.03,855.50 106.00,855.20 C106.97,854.90 107.63,854.20 108.80,854.20 C109.97,854.20 111.27,854.97 113.00,855.20 C114.73,855.43 117.53,855.63 119.20,855.60 C120.87,855.57 121.72,855.17 123.00,855.00 C124.28,854.83 124.90,854.63 126.90,854.60 C128.90,854.57 131.48,854.87 135.00,854.80 C138.52,854.73 144.50,854.37 148.00,854.20 C151.50,854.03 153.42,854.00 156.00,853.80 C158.58,853.60 161.17,853.27 163.50,853.00 C165.83,852.73 167.75,852.57 170.00,852.20 C172.25,851.83 175.17,851.33 177.00,850.80 C178.83,850.27 180.33,849.20 181.00,849.00 C181.67,848.80 180.40,849.77 181.00,849.60 C181.60,849.43 183.60,848.02 184.60,848.00 C185.60,847.98 186.03,849.03 187.00,849.50 C187.97,849.97 189.07,850.63 190.40,850.80 C191.73,850.97 193.40,850.83 195.00,850.50 C196.60,850.17 198.33,849.47 200.00,848.80 C201.67,848.13 203.37,847.30 205.00,846.50 C206.63,845.70 208.13,844.75 209.80,844.00 C211.47,843.25 212.85,842.77 215.00,842.00 C217.15,841.23 221.12,840.15 222.70,839.40 C224.28,838.65 223.78,837.32 224.50,837.50 C225.22,837.68 226.00,839.65 227.00,840.50 C228.00,841.35 229.33,842.43 230.50,842.60 C231.67,842.77 232.92,842.02 234.00,841.50 C235.08,840.98 235.83,840.33 237.00,839.50 C238.17,838.67 240.33,837.00 241.00,836.50" fill="none" stroke="#151515" stroke-width="1.6" stroke-linejoin="round" stroke-dasharray="5,2"/>
<rect x="52.70" y="721.20" width="188.60" height="139.30" fill="none" stroke="#1a1a1a" stroke-width="1.6"/>
<text transform="translate(207.6,813.2) rotate(-90)" font-size="6.4" fill="#6cc030" font-weight="bold" textLength="9.3" lengthAdjust="spacingAndGlyphs">128</text>
<text transform="translate(222.6,794.8) rotate(-90)" font-size="6.4" fill="#6cc030" font-weight="bold" textLength="9.3" lengthAdjust="spacingAndGlyphs">140</text>
<path d="M201.30,765.60 L204.50,765.60 L204.50,775.20 L208.15,775.20 L202.90,791.50 L197.65,775.20 L201.30,775.20 Z" fill="#000"/>
<path d="M216.65,742.50 L219.95,742.50 L219.95,752.00 L223.60,752.00 L218.30,769.40 L213.00,752.00 L216.65,752.00 Z" fill="#000"/>
<line x1="326.40" y1="110.60" x2="512.80" y2="110.60" stroke="#f4f4f4" stroke-width="0.8"/>
<line x1="326.40" y1="135.25" x2="512.80" y2="135.25" stroke="#f4f4f4" stroke-width="0.8"/>
<line x1="326.40" y1="159.90" x2="512.80" y2="159.90" stroke="#f4f4f4" stroke-width="0.8"/>
<line x1="326.40" y1="184.55" x2="512.80" y2="184.55" stroke="#f4f4f4" stroke-width="0.8"/>
<line x1="326.40" y1="209.20" x2="512.80" y2="209.20" stroke="#f4f4f4" stroke-width="0.8"/>
<text x="326.2" y="102.30" font-size="5.6" fill="#333" font-weight="bold" textLength="6.6" lengthAdjust="spacingAndGlyphs">mV</text>
<text x="325.9" y="114.50" font-size="6" fill="#333" textLength="5.2" lengthAdjust="spacingAndGlyphs">50</text>
<text x="325.9" y="138.50" font-size="6" fill="#333" textLength="5.2" lengthAdjust="spacingAndGlyphs">40</text>
<text x="325.9" y="162.50" font-size="6" fill="#333" textLength="5.2" lengthAdjust="spacingAndGlyphs">30</text>
<text x="325.9" y="186.50" font-size="6" fill="#333" textLength="5.2" lengthAdjust="spacingAndGlyphs">20</text>
<text x="325.9" y="210.50" font-size="6" fill="#333" textLength="5.2" lengthAdjust="spacingAndGlyphs">10</text>
<text x="326.2" y="235.00" font-size="5.6" fill="#444">0</text>
<text x="288.66" y="116.72" font-size="18.08" font-weight="bold" fill="#111" stroke="#111" stroke-width="0.319" textLength="19.46" lengthAdjust="spacingAndGlyphs">50</text>
<rect x="314.30" y="110.80" width="4.70" height="2.30" fill="#111"/>
<text x="300.10" y="238.93" font-size="17.66" font-weight="bold" fill="#111" stroke="#111" stroke-width="0.312" textLength="9.82" lengthAdjust="spacingAndGlyphs">0</text>
<rect x="315.40" y="233.20" width="5.40" height="2.30" fill="#111"/>
<text transform="translate(308.10,175.39) rotate(-90)" x="0" y="0" font-size="19.62" font-weight="bold" fill="#111" stroke="#111" stroke-width="0.346" textLength="28.11" lengthAdjust="spacingAndGlyphs">mV</text>
<rect x="328.80" y="241.60" width="2.40" height="5.00" fill="#111"/>
<rect x="511.60" y="241.60" width="2.30" height="5.00" fill="#111"/>
<text x="405.45" y="118.42" font-size="18.71" font-weight="bold" fill="#111" stroke="#111" stroke-width="0.330" textLength="25.72" lengthAdjust="spacingAndGlyphs">5%</text>
<line x1="331.00" y1="95.60" x2="331.00" y2="233.40" stroke="#c08ad0" stroke-width="1.2" stroke-dasharray="3,1.5"/>
<line x1="329.80" y1="95.60" x2="329.80" y2="233.40" stroke="#d070b0" stroke-width="1.0" opacity="0.6"/>
<path d="M336.30,95.60 C336.40,101.33 336.68,119.27 336.90,130.00 C337.12,140.73 337.35,150.83 337.60,160.00 C337.85,169.17 338.12,177.57 338.40,185.00 C338.68,192.43 338.98,200.02 339.30,204.60 C339.62,209.18 339.92,210.20 340.30,212.50 C340.68,214.80 341.12,216.65 341.60,218.40 C342.08,220.15 342.63,221.65 343.20,223.00 C343.77,224.35 344.33,225.50 345.00,226.50 C345.67,227.50 346.42,228.32 347.20,229.00 C347.98,229.68 348.73,230.10 349.70,230.60 C350.67,231.10 351.85,231.62 353.00,232.00 C354.15,232.38 354.27,232.82 356.60,232.90 C358.93,232.98 363.10,232.62 367.00,232.50 C370.90,232.38 375.50,232.30 380.00,232.20 C384.50,232.10 390.33,232.07 394.00,231.90 C397.67,231.73 399.33,231.42 402.00,231.20 C404.67,230.98 407.00,230.77 410.00,230.60 C413.00,230.43 416.83,230.53 420.00,230.20 C423.17,229.87 426.17,229.00 429.00,228.60 C431.83,228.20 433.88,228.27 437.00,227.80 C440.12,227.33 445.03,226.35 447.70,225.80 C450.37,225.25 451.08,225.08 453.00,224.50 C454.92,223.92 457.52,222.92 459.20,222.30 C460.88,221.68 461.82,221.82 463.10,220.80 C464.38,219.78 465.62,218.25 466.90,216.20 C468.18,214.15 469.78,211.20 470.80,208.50 C471.82,205.80 472.22,203.25 473.00,200.00 C473.78,196.75 474.75,193.17 475.50,189.00 C476.25,184.83 476.88,178.92 477.50,175.00 C478.12,171.08 478.72,167.58 479.20,165.50 C479.68,163.42 479.97,162.58 480.40,162.50 C480.83,162.42 481.33,163.08 481.80,165.00 C482.27,166.92 482.73,170.83 483.20,174.00 C483.67,177.17 484.10,181.37 484.60,184.00 C485.10,186.63 485.67,189.30 486.20,189.80 C486.73,190.30 487.25,189.13 487.80,187.00 C488.35,184.87 488.93,181.00 489.50,177.00 C490.07,173.00 490.62,168.00 491.20,163.00 C491.78,158.00 492.45,151.67 493.00,147.00 C493.55,142.33 494.08,137.45 494.50,135.00 C494.92,132.55 495.18,131.47 495.50,132.30 C495.82,133.13 496.10,135.38 496.40,140.00 C496.70,144.62 497.02,153.33 497.30,160.00 C497.58,166.67 497.85,174.57 498.10,180.00 C498.35,185.43 498.48,188.77 498.80,192.60 C499.12,196.43 499.55,200.10 500.00,203.00 C500.45,205.90 500.88,207.72 501.50,210.00 C502.12,212.28 502.95,215.62 503.70,216.70 C504.45,217.78 505.20,216.85 506.00,216.50 C506.80,216.15 507.67,215.25 508.50,214.60 C509.33,213.95 510.25,213.20 511.00,212.60 C511.75,212.00 512.67,211.27 513.00,211.00" fill="none" stroke="#d070b0" stroke-width="1.1" stroke-linejoin="round"/>
<path d="M337.80,95.60 C337.90,101.33 338.18,119.27 338.40,130.00 C338.62,140.73 338.85,150.83 339.10,160.00 C339.35,169.17 339.69,177.57 339.90,185.00 C340.11,192.43 340.19,200.02 340.37,204.60 C340.55,209.18 340.71,210.20 340.98,212.50 C341.24,214.80 341.58,216.65 341.98,218.40 C342.38,220.15 342.85,221.65 343.35,223.00 C343.85,224.35 344.36,225.50 345.00,226.50 C345.64,227.50 346.42,228.32 347.20,229.00 C347.98,229.68 348.73,230.10 349.70,230.60 C350.67,231.10 351.85,231.62 353.00,232.00 C354.15,232.38 354.27,232.85 356.60,232.90 C358.93,232.95 363.10,232.48 367.00,232.30 C370.90,232.12 375.50,231.93 380.00,231.80 C384.50,231.67 390.33,231.77 394.00,231.50 C397.67,231.23 399.33,230.60 402.00,230.20 C404.67,229.80 407.00,229.37 410.00,229.10 C413.00,228.83 416.83,228.92 420.00,228.60 C423.17,228.28 426.17,227.53 429.00,227.20 C431.83,226.87 434.33,227.10 437.00,226.60 C439.67,226.10 442.83,224.98 445.00,224.20 C447.17,223.42 447.88,222.40 450.00,221.90 C452.12,221.40 455.53,221.32 457.70,221.20 C459.87,221.08 461.58,221.15 463.00,221.20 C464.42,221.25 464.90,221.95 466.20,221.50 C467.50,221.05 469.40,219.27 470.80,218.50 C472.20,217.73 473.20,217.82 474.60,216.90 C476.00,215.98 477.40,214.95 479.20,213.00 C481.00,211.05 483.60,206.73 485.40,205.20 C487.20,203.67 488.40,204.22 490.00,203.80 C491.60,203.38 493.75,203.67 495.00,202.70 C496.25,201.73 496.80,199.50 497.50,198.00 C498.20,196.50 498.62,193.53 499.20,193.70 C499.78,193.87 500.40,197.03 501.00,199.00 C501.60,200.97 502.20,204.00 502.80,205.50 C503.40,207.00 503.90,208.08 504.60,208.00 C505.30,207.92 506.10,206.33 507.00,205.00 C507.90,203.67 509.00,201.57 510.00,200.00 C511.00,198.43 512.50,196.33 513.00,195.60" fill="none" stroke="#4a4490" stroke-width="1.3" stroke-linejoin="round" stroke-dasharray="3.6,2"/>
<path d="M337.80,95.60 C337.90,101.33 338.18,119.27 338.40,130.00 C338.62,140.73 338.85,150.83 339.10,160.00 C339.35,169.17 339.69,177.57 339.90,185.00 C340.11,192.43 340.19,200.02 340.37,204.60 C340.55,209.18 340.71,210.20 340.98,212.50 C341.24,214.80 341.58,216.65 341.98,218.40 C342.38,220.15 342.85,221.65 343.35,223.00 C343.85,224.35 344.36,225.50 345.00,226.50 C345.64,227.50 346.42,228.32 347.20,229.00 C347.98,229.68 348.73,230.10 349.70,230.60 C350.67,231.10 351.85,231.62 353.00,232.00 C354.15,232.38 356.00,232.75 356.60,232.90" fill="none" stroke="#b890d8" stroke-width="1.6" stroke-linejoin="round" stroke-dasharray="3.6,2"/>
<rect x="325.50" y="94.60" width="188.30" height="142.00" fill="none" stroke="#1a1a1a" stroke-width="1.45"/>
<text transform="translate(482.40,160.40) rotate(-90)" font-size="6.3" fill="#b04a96" textLength="10" lengthAdjust="spacingAndGlyphs">128</text>
<text transform="translate(497.40,130.80) rotate(-90)" font-size="6.3" fill="#b04a96" textLength="10" lengthAdjust="spacingAndGlyphs">141</text>
<path d="M476.55,118.80 L480.05,118.80 L480.05,128.10 L483.85,128.10 L478.30,145.80 L472.75,128.10 L476.55,128.10 Z" fill="#000"/>
<path d="M492.85,95.50 L496.35,95.50 L496.35,105.00 L500.15,105.00 L494.60,121.90 L489.05,105.00 L492.85,105.00 Z" fill="#000"/>
<line x1="326.40" y1="304.60" x2="512.80" y2="304.60" stroke="#f4f4f4" stroke-width="0.8"/>
<line x1="326.40" y1="329.25" x2="512.80" y2="329.25" stroke="#f4f4f4" stroke-width="0.8"/>
<line x1="326.40" y1="353.90" x2="512.80" y2="353.90" stroke="#f4f4f4" stroke-width="0.8"/>
<line x1="326.40" y1="378.55" x2="512.80" y2="378.55" stroke="#f4f4f4" stroke-width="0.8"/>
<line x1="326.40" y1="403.20" x2="512.80" y2="403.20" stroke="#f4f4f4" stroke-width="0.8"/>
<text x="326.2" y="296.30" font-size="5.6" fill="#333" font-weight="bold" textLength="6.6" lengthAdjust="spacingAndGlyphs">mV</text>
<text x="325.9" y="308.50" font-size="6" fill="#333" textLength="5.2" lengthAdjust="spacingAndGlyphs">50</text>
<text x="325.9" y="332.50" font-size="6" fill="#333" textLength="5.2" lengthAdjust="spacingAndGlyphs">40</text>
<text x="325.9" y="356.50" font-size="6" fill="#333" textLength="5.2" lengthAdjust="spacingAndGlyphs">30</text>
<text x="325.9" y="380.50" font-size="6" fill="#333" textLength="5.2" lengthAdjust="spacingAndGlyphs">20</text>
<text x="325.9" y="404.50" font-size="6" fill="#333" textLength="5.2" lengthAdjust="spacingAndGlyphs">10</text>
<text x="326.2" y="429.00" font-size="5.6" fill="#444">0</text>
<text x="288.66" y="310.72" font-size="18.08" font-weight="bold" fill="#111" stroke="#111" stroke-width="0.319" textLength="19.46" lengthAdjust="spacingAndGlyphs">50</text>
<rect x="314.30" y="304.80" width="4.70" height="2.30" fill="#111"/>
<text x="300.10" y="432.93" font-size="17.66" font-weight="bold" fill="#111" stroke="#111" stroke-width="0.312" textLength="9.82" lengthAdjust="spacingAndGlyphs">0</text>
<rect x="315.40" y="427.20" width="5.40" height="2.30" fill="#111"/>
<text transform="translate(308.10,369.39) rotate(-90)" x="0" y="0" font-size="19.62" font-weight="bold" fill="#111" stroke="#111" stroke-width="0.346" textLength="28.11" lengthAdjust="spacingAndGlyphs">mV</text>
<rect x="328.80" y="435.60" width="2.40" height="5.00" fill="#111"/>
<rect x="511.60" y="435.60" width="2.30" height="5.00" fill="#111"/>
<text x="405.59" y="312.36" font-size="18.05" font-weight="bold" fill="#111" stroke="#111" stroke-width="0.319" textLength="25.47" lengthAdjust="spacingAndGlyphs">1%</text>
<line x1="331.00" y1="289.60" x2="331.00" y2="427.40" stroke="#7a6ee0" stroke-width="1.2" stroke-dasharray="3,1.5"/>
<line x1="329.80" y1="289.60" x2="329.80" y2="427.40" stroke="#7466d8" stroke-width="1.0" opacity="0.6"/>
<path d="M336.30,289.60 C336.40,295.33 336.68,313.27 336.90,324.00 C337.12,334.73 337.35,344.83 337.60,354.00 C337.85,363.17 338.12,371.57 338.40,379.00 C338.68,386.43 338.98,394.02 339.30,398.60 C339.62,403.18 339.92,404.20 340.30,406.50 C340.68,408.80 341.12,410.65 341.60,412.40 C342.08,414.15 342.63,415.65 343.20,417.00 C343.77,418.35 344.33,419.50 345.00,420.50 C345.67,421.50 346.42,422.32 347.20,423.00 C347.98,423.68 348.73,424.10 349.70,424.60 C350.67,425.10 351.85,425.62 353.00,426.00 C354.15,426.38 354.27,426.77 356.60,426.90 C358.93,427.03 363.10,426.85 367.00,426.80 C370.90,426.75 375.50,426.68 380.00,426.60 C384.50,426.52 389.00,426.58 394.00,426.30 C399.00,426.02 404.83,425.18 410.00,424.90 C415.17,424.62 420.07,424.77 425.00,424.60 C429.93,424.43 435.93,424.42 439.60,423.90 C443.27,423.38 444.53,422.38 447.00,421.50 C449.47,420.62 452.23,419.38 454.40,418.60 C456.57,417.82 458.07,417.52 460.00,416.80 C461.93,416.08 464.42,415.18 466.00,414.30 C467.58,413.42 468.43,412.72 469.50,411.50 C470.57,410.28 471.52,408.92 472.40,407.00 C473.28,405.08 474.03,402.50 474.80,400.00 C475.57,397.50 476.33,394.33 477.00,392.00 C477.67,389.67 478.23,387.53 478.80,386.00 C479.37,384.47 479.87,382.97 480.40,382.80 C480.93,382.63 481.48,383.72 482.00,385.00 C482.52,386.28 483.00,388.75 483.50,390.50 C484.00,392.25 484.55,394.42 485.00,395.50 C485.45,396.58 485.73,397.08 486.20,397.00 C486.67,396.92 487.23,396.33 487.80,395.00 C488.37,393.67 488.98,391.33 489.60,389.00 C490.22,386.67 490.87,383.67 491.50,381.00 C492.13,378.33 492.77,375.03 493.40,373.00 C494.03,370.97 494.78,368.80 495.30,368.80 C495.82,368.80 496.12,370.63 496.50,373.00 C496.88,375.37 497.25,379.83 497.60,383.00 C497.95,386.17 498.20,389.33 498.60,392.00 C499.00,394.67 499.43,396.83 500.00,399.00 C500.57,401.17 501.33,403.33 502.00,405.00 C502.67,406.67 503.42,408.07 504.00,409.00 C504.58,409.93 504.83,410.57 505.50,410.60 C506.17,410.63 507.17,409.88 508.00,409.20 C508.83,408.52 509.67,407.45 510.50,406.50 C511.33,405.55 512.58,404.00 513.00,403.50" fill="none" stroke="#7466d8" stroke-width="1.1" stroke-linejoin="round"/>
<path d="M337.80,289.60 C337.90,295.33 338.18,313.27 338.40,324.00 C338.62,334.73 338.85,344.83 339.10,354.00 C339.35,363.17 339.69,371.57 339.90,379.00 C340.11,386.43 340.19,394.02 340.37,398.60 C340.55,403.18 340.71,404.20 340.98,406.50 C341.24,408.80 341.58,410.65 341.98,412.40 C342.38,414.15 342.85,415.65 343.35,417.00 C343.85,418.35 344.36,419.50 345.00,420.50 C345.64,421.50 346.42,422.32 347.20,423.00 C347.98,423.68 348.73,424.10 349.70,424.60 C350.67,425.10 351.85,425.62 353.00,426.00 C354.15,426.38 354.27,426.80 356.60,426.90 C358.93,427.00 363.10,426.72 367.00,426.60 C370.90,426.48 375.50,426.37 380.00,426.20 C384.50,426.03 389.00,425.97 394.00,425.60 C399.00,425.23 404.83,424.43 410.00,424.00 C415.17,423.57 420.00,423.33 425.00,423.00 C430.00,422.67 436.33,422.57 440.00,422.00 C443.67,421.43 444.67,420.43 447.00,419.60 C449.33,418.77 451.83,417.77 454.00,417.00 C456.17,416.23 458.00,415.67 460.00,415.00 C462.00,414.33 464.12,413.47 466.00,413.00 C467.88,412.53 469.48,413.12 471.30,412.20 C473.12,411.28 475.48,408.55 476.90,407.50 C478.32,406.45 478.78,406.82 479.80,405.90 C480.82,404.98 481.93,403.17 483.00,402.00 C484.07,400.83 485.03,399.53 486.20,398.90 C487.37,398.27 488.60,398.45 490.00,398.20 C491.40,397.95 493.47,398.43 494.60,397.40 C495.73,396.37 496.07,393.68 496.80,392.00 C497.53,390.32 498.33,387.13 499.00,387.30 C499.67,387.47 500.20,390.97 500.80,393.00 C501.40,395.03 501.97,397.92 502.60,399.50 C503.23,401.08 503.87,402.50 504.60,402.50 C505.33,402.50 506.10,400.83 507.00,399.50 C507.90,398.17 509.00,396.08 510.00,394.50 C511.00,392.92 512.50,390.75 513.00,390.00" fill="none" stroke="#6a60b4" stroke-width="1.3" stroke-linejoin="round" stroke-dasharray="3.6,2"/>
<path d="M337.80,289.60 C337.90,295.33 338.18,313.27 338.40,324.00 C338.62,334.73 338.85,344.83 339.10,354.00 C339.35,363.17 339.69,371.57 339.90,379.00 C340.11,386.43 340.19,394.02 340.37,398.60 C340.55,403.18 340.71,404.20 340.98,406.50 C341.24,408.80 341.58,410.65 341.98,412.40 C342.38,414.15 342.85,415.65 343.35,417.00 C343.85,418.35 344.36,419.50 345.00,420.50 C345.64,421.50 346.42,422.32 347.20,423.00 C347.98,423.68 348.73,424.10 349.70,424.60 C350.67,425.10 351.85,425.62 353.00,426.00 C354.15,426.38 356.00,426.75 356.60,426.90" fill="none" stroke="#9a90e0" stroke-width="1.6" stroke-linejoin="round" stroke-dasharray="3.6,2"/>
<rect x="325.50" y="288.60" width="188.30" height="142.00" fill="none" stroke="#1a1a1a" stroke-width="1.45"/>
<text transform="translate(482.40,381.30) rotate(-90)" font-size="6.3" fill="#5a50c0" textLength="10" lengthAdjust="spacingAndGlyphs">127</text>
<text transform="translate(497.30,367.90) rotate(-90)" font-size="6.3" fill="#5a50c0" textLength="10" lengthAdjust="spacingAndGlyphs">141</text>
<path d="M476.35,336.00 L479.85,336.00 L479.85,345.60 L483.65,345.60 L478.10,362.50 L472.55,345.60 L476.35,345.60 Z" fill="#000"/>
<path d="M492.85,312.80 L496.35,312.80 L496.35,322.30 L500.15,322.30 L494.60,340.30 L489.05,322.30 L492.85,322.30 Z" fill="#000"/>
<line x1="326.40" y1="498.70" x2="512.80" y2="498.70" stroke="#f4f4f4" stroke-width="0.8"/>
<line x1="326.40" y1="523.35" x2="512.80" y2="523.35" stroke="#f4f4f4" stroke-width="0.8"/>
<line x1="326.40" y1="548.00" x2="512.80" y2="548.00" stroke="#f4f4f4" stroke-width="0.8"/>
<line x1="326.40" y1="572.65" x2="512.80" y2="572.65" stroke="#f4f4f4" stroke-width="0.8"/>
<line x1="326.40" y1="597.30" x2="512.80" y2="597.30" stroke="#f4f4f4" stroke-width="0.8"/>
<text x="326.2" y="490.40" font-size="5.6" fill="#333" font-weight="bold" textLength="6.6" lengthAdjust="spacingAndGlyphs">mV</text>
<text x="325.9" y="502.60" font-size="6" fill="#333" textLength="5.2" lengthAdjust="spacingAndGlyphs">50</text>
<text x="325.9" y="526.60" font-size="6" fill="#333" textLength="5.2" lengthAdjust="spacingAndGlyphs">40</text>
<text x="325.9" y="550.60" font-size="6" fill="#333" textLength="5.2" lengthAdjust="spacingAndGlyphs">30</text>
<text x="325.9" y="574.60" font-size="6" fill="#333" textLength="5.2" lengthAdjust="spacingAndGlyphs">20</text>
<text x="325.9" y="598.60" font-size="6" fill="#333" textLength="5.2" lengthAdjust="spacingAndGlyphs">10</text>
<text x="326.2" y="623.10" font-size="5.6" fill="#444">0</text>
<text x="288.66" y="504.82" font-size="18.08" font-weight="bold" fill="#111" stroke="#111" stroke-width="0.319" textLength="19.46" lengthAdjust="spacingAndGlyphs">50</text>
<rect x="314.30" y="498.90" width="4.70" height="2.30" fill="#111"/>
<text x="300.10" y="627.03" font-size="17.66" font-weight="bold" fill="#111" stroke="#111" stroke-width="0.312" textLength="9.82" lengthAdjust="spacingAndGlyphs">0</text>
<rect x="315.40" y="621.30" width="5.40" height="2.30" fill="#111"/>
<text transform="translate(308.10,563.49) rotate(-90)" x="0" y="0" font-size="19.62" font-weight="bold" fill="#111" stroke="#111" stroke-width="0.346" textLength="28.11" lengthAdjust="spacingAndGlyphs">mV</text>
<rect x="328.80" y="629.70" width="2.40" height="5.00" fill="#111"/>
<rect x="511.60" y="629.70" width="2.30" height="5.00" fill="#111"/>
<text x="399.50" y="507.02" font-size="18.08" font-weight="bold" fill="#111" stroke="#111" stroke-width="0.319" textLength="40.16" lengthAdjust="spacingAndGlyphs">0.5%</text>
<line x1="331.00" y1="483.70" x2="331.00" y2="621.50" stroke="#9aa4d4" stroke-width="1.2" stroke-dasharray="3,1.5"/>
<line x1="329.80" y1="483.70" x2="329.80" y2="621.50" stroke="#98d8c4" stroke-width="1.0" opacity="0.6"/>
<path d="M336.30,483.70 C336.40,489.43 336.68,507.37 336.90,518.10 C337.12,528.83 337.35,538.93 337.60,548.10 C337.85,557.27 338.12,565.67 338.40,573.10 C338.68,580.53 338.98,588.12 339.30,592.70 C339.62,597.28 339.92,598.30 340.30,600.60 C340.68,602.90 341.12,604.75 341.60,606.50 C342.08,608.25 342.63,609.75 343.20,611.10 C343.77,612.45 344.33,613.60 345.00,614.60 C345.67,615.60 346.42,616.42 347.20,617.10 C347.98,617.78 348.73,618.20 349.70,618.70 C350.67,619.20 351.85,619.72 353.00,620.10 C354.15,620.48 354.27,620.85 356.60,621.00 C358.93,621.15 363.10,621.03 367.00,621.00 C370.90,620.97 375.50,620.88 380.00,620.80 C384.50,620.72 389.00,620.97 394.00,620.50 C399.00,620.03 404.83,618.52 410.00,618.00 C415.17,617.48 419.72,617.67 425.00,617.40 C430.28,617.13 437.15,616.98 441.70,616.40 C446.25,615.82 449.25,614.40 452.30,613.90 C455.35,613.40 457.72,613.58 460.00,613.40 C462.28,613.22 464.33,613.87 466.00,612.80 C467.67,611.73 468.75,609.12 470.00,607.00 C471.25,604.88 472.33,602.02 473.50,600.10 C474.67,598.18 475.85,596.62 477.00,595.50 C478.15,594.38 479.40,593.57 480.40,593.40 C481.40,593.23 482.07,594.23 483.00,594.50 C483.93,594.77 485.00,595.33 486.00,595.00 C487.00,594.67 488.00,593.42 489.00,592.50 C490.00,591.58 490.70,590.73 492.00,589.50 C493.30,588.27 495.72,585.18 496.80,585.10 C497.88,585.02 497.88,587.02 498.50,589.00 C499.12,590.98 499.83,594.75 500.50,597.00 C501.17,599.25 501.82,601.30 502.50,602.50 C503.18,603.70 503.68,604.28 504.60,604.20 C505.52,604.12 506.67,602.87 508.00,602.00 C509.33,601.13 511.83,599.50 512.60,599.00" fill="none" stroke="#98d8c4" stroke-width="1.1" stroke-linejoin="round"/>
<path d="M337.80,483.70 C337.90,489.43 338.18,507.37 338.40,518.10 C338.62,528.83 338.85,538.93 339.10,548.10 C339.35,557.27 339.69,565.67 339.90,573.10 C340.11,580.53 340.19,588.12 340.37,592.70 C340.55,597.28 340.71,598.30 340.98,600.60 C341.24,602.90 341.58,604.75 341.98,606.50 C342.38,608.25 342.85,609.75 343.35,611.10 C343.85,612.45 344.36,613.60 345.00,614.60 C345.64,615.60 346.42,616.42 347.20,617.10 C347.98,617.78 348.73,618.20 349.70,618.70 C350.67,619.20 351.85,619.72 353.00,620.10 C354.15,620.48 354.27,620.90 356.60,621.00 C358.93,621.10 363.10,620.82 367.00,620.70 C370.90,620.58 375.50,620.43 380.00,620.30 C384.50,620.17 389.00,620.33 394.00,619.90 C399.00,619.47 404.83,618.25 410.00,617.70 C415.17,617.15 420.42,616.97 425.00,616.60 C429.58,616.23 434.33,616.18 437.50,615.50 C440.67,614.82 441.88,613.42 444.00,612.50 C446.12,611.58 448.03,610.53 450.20,610.00 C452.37,609.47 454.53,609.53 457.00,609.30 C459.47,609.07 462.83,609.10 465.00,608.60 C467.17,608.10 468.33,607.57 470.00,606.30 C471.67,605.03 473.27,602.72 475.00,601.00 C476.73,599.28 478.35,597.35 480.40,596.00 C482.45,594.65 484.85,593.85 487.30,592.90 C489.75,591.95 493.40,591.62 495.10,590.30 C496.80,588.98 496.78,586.58 497.50,585.00 C498.22,583.42 498.78,580.30 499.40,580.80 C500.02,581.30 500.63,585.80 501.20,588.00 C501.77,590.20 502.30,592.53 502.80,594.00 C503.30,595.47 503.50,596.88 504.20,596.80 C504.90,596.72 506.03,594.80 507.00,593.50 C507.97,592.20 509.10,590.47 510.00,589.00 C510.90,587.53 512.00,585.42 512.40,584.70" fill="none" stroke="#6a6498" stroke-width="1.3" stroke-linejoin="round" stroke-dasharray="3.6,2"/>
<path d="M337.80,483.70 C337.90,489.43 338.18,507.37 338.40,518.10 C338.62,528.83 338.85,538.93 339.10,548.10 C339.35,557.27 339.69,565.67 339.90,573.10 C340.11,580.53 340.19,588.12 340.37,592.70 C340.55,597.28 340.71,598.30 340.98,600.60 C341.24,602.90 341.58,604.75 341.98,606.50 C342.38,608.25 342.85,609.75 343.35,611.10 C343.85,612.45 344.36,613.60 345.00,614.60 C345.64,615.60 346.42,616.42 347.20,617.10 C347.98,617.78 348.73,618.20 349.70,618.70 C350.67,619.20 351.85,619.72 353.00,620.10 C354.15,620.48 356.00,620.85 356.60,621.00" fill="none" stroke="#8e88b8" stroke-width="1.6" stroke-linejoin="round" stroke-dasharray="3.6,2"/>
<rect x="325.50" y="482.70" width="188.30" height="142.00" fill="none" stroke="#1a1a1a" stroke-width="1.45"/>
<path d="M476.35,557.20 L479.85,557.20 L479.85,566.30 L483.65,566.30 L478.10,583.80 L472.55,566.30 L476.35,566.30 Z" fill="#000"/>
<path d="M492.85,534.50 L496.35,534.50 L496.35,543.00 L500.15,543.00 L494.60,561.00 L489.05,543.00 L492.85,543.00 Z" fill="#000"/>
<line x1="326.40" y1="692.90" x2="512.80" y2="692.90" stroke="#f4f4f4" stroke-width="0.8"/>
<line x1="326.40" y1="717.55" x2="512.80" y2="717.55" stroke="#f4f4f4" stroke-width="0.8"/>
<line x1="326.40" y1="742.20" x2="512.80" y2="742.20" stroke="#f4f4f4" stroke-width="0.8"/>
<line x1="326.40" y1="766.85" x2="512.80" y2="766.85" stroke="#f4f4f4" stroke-width="0.8"/>
<line x1="326.40" y1="791.50" x2="512.80" y2="791.50" stroke="#f4f4f4" stroke-width="0.8"/>
<text x="326.2" y="684.60" font-size="5.6" fill="#333" font-weight="bold" textLength="6.6" lengthAdjust="spacingAndGlyphs">mV</text>
<text x="325.9" y="696.80" font-size="6" fill="#333" textLength="5.2" lengthAdjust="spacingAndGlyphs">50</text>
<text x="325.9" y="720.80" font-size="6" fill="#333" textLength="5.2" lengthAdjust="spacingAndGlyphs">40</text>
<text x="325.9" y="744.80" font-size="6" fill="#333" textLength="5.2" lengthAdjust="spacingAndGlyphs">30</text>
<text x="325.9" y="768.80" font-size="6" fill="#333" textLength="5.2" lengthAdjust="spacingAndGlyphs">20</text>
<text x="325.9" y="792.80" font-size="6" fill="#333" textLength="5.2" lengthAdjust="spacingAndGlyphs">10</text>
<text x="326.2" y="817.30" font-size="5.6" fill="#444">0</text>
<text x="288.66" y="699.02" font-size="18.08" font-weight="bold" fill="#111" stroke="#111" stroke-width="0.319" textLength="19.46" lengthAdjust="spacingAndGlyphs">50</text>
<rect x="314.30" y="693.10" width="4.70" height="2.30" fill="#111"/>
<text x="300.10" y="821.23" font-size="17.66" font-weight="bold" fill="#111" stroke="#111" stroke-width="0.312" textLength="9.82" lengthAdjust="spacingAndGlyphs">0</text>
<rect x="315.40" y="815.50" width="5.40" height="2.30" fill="#111"/>
<text transform="translate(308.10,757.69) rotate(-90)" x="0" y="0" font-size="19.62" font-weight="bold" fill="#111" stroke="#111" stroke-width="0.346" textLength="28.11" lengthAdjust="spacingAndGlyphs">mV</text>
<rect x="328.80" y="823.90" width="2.40" height="5.00" fill="#111"/>
<rect x="511.60" y="823.90" width="2.30" height="5.00" fill="#111"/>
<text x="405.19" y="700.62" font-size="18.36" font-weight="bold" fill="#111" stroke="#111" stroke-width="0.324" textLength="25.88" lengthAdjust="spacingAndGlyphs">0%</text>
<line x1="331.00" y1="677.90" x2="331.00" y2="815.70" stroke="#8a7cc8" stroke-width="1.2" stroke-dasharray="3,1.5"/>
<path d="M337.80,677.90 C337.90,683.63 338.18,701.57 338.40,712.30 C338.62,723.03 338.85,733.13 339.10,742.30 C339.35,751.47 339.69,759.87 339.90,767.30 C340.11,774.73 340.19,782.32 340.37,786.90 C340.55,791.48 340.71,792.50 340.98,794.80 C341.24,797.10 341.58,798.95 341.98,800.70 C342.38,802.45 342.85,803.95 343.35,805.30 C343.85,806.65 344.36,807.80 345.00,808.80 C345.64,809.80 346.42,810.62 347.20,811.30 C347.98,811.98 348.73,812.40 349.70,812.90 C350.67,813.40 351.85,813.92 353.00,814.30 C354.15,814.68 354.27,815.10 356.60,815.20 C358.93,815.30 363.10,815.02 367.00,814.90 C370.90,814.78 375.50,814.63 380.00,814.50 C384.50,814.37 389.00,814.63 394.00,814.10 C399.00,813.57 404.83,811.88 410.00,811.30 C415.17,810.72 420.42,810.85 425.00,810.60 C429.58,810.35 434.33,810.43 437.50,809.80 C440.67,809.17 441.88,807.72 444.00,806.80 C446.12,805.88 448.03,804.80 450.20,804.30 C452.37,803.80 454.53,803.95 457.00,803.80 C459.47,803.65 462.67,803.90 465.00,803.40 C467.33,802.90 468.88,801.78 471.00,800.80 C473.12,799.82 475.95,798.88 477.70,797.50 C479.45,796.12 480.27,794.25 481.50,792.50 C482.73,790.75 483.68,788.08 485.10,787.00 C486.52,785.92 488.42,786.30 490.00,786.00 C491.58,785.70 493.40,786.20 494.60,785.20 C495.80,784.20 496.42,781.65 497.20,780.00 C497.98,778.35 498.63,774.80 499.30,775.30 C499.97,775.80 500.62,780.80 501.20,783.00 C501.78,785.20 502.32,787.22 502.80,788.50 C503.28,789.78 503.40,790.87 504.10,790.70 C504.80,790.53 506.02,788.87 507.00,787.50 C507.98,786.13 509.00,784.18 510.00,782.50 C511.00,780.82 512.50,778.25 513.00,777.40" fill="none" stroke="#8470c0" stroke-width="1.3" stroke-linejoin="round" stroke-dasharray="3.6,2"/>
<path d="M337.80,677.90 C337.90,683.63 338.18,701.57 338.40,712.30 C338.62,723.03 338.85,733.13 339.10,742.30 C339.35,751.47 339.69,759.87 339.90,767.30 C340.11,774.73 340.19,782.32 340.37,786.90 C340.55,791.48 340.71,792.50 340.98,794.80 C341.24,797.10 341.58,798.95 341.98,800.70 C342.38,802.45 342.85,803.95 343.35,805.30 C343.85,806.65 344.36,807.80 345.00,808.80 C345.64,809.80 346.42,810.62 347.20,811.30 C347.98,811.98 348.73,812.40 349.70,812.90 C350.67,813.40 351.85,813.92 353.00,814.30 C354.15,814.68 356.00,815.05 356.60,815.20" fill="none" stroke="#9a8cd0" stroke-width="1.6" stroke-linejoin="round" stroke-dasharray="3.6,2"/>
<line x1="326.40" y1="815.60" x2="512.80" y2="815.60" stroke="#5fb87a" stroke-width="0.9"/>
<rect x="325.50" y="676.90" width="188.30" height="142.00" fill="none" stroke="#1a1a1a" stroke-width="1.45"/>
<path d="M476.35,756.30 L479.85,756.30 L479.85,765.40 L483.65,765.40 L478.10,782.70 L472.55,765.40 L476.35,765.40 Z" fill="#000"/>
<path d="M492.85,733.00 L496.35,733.00 L496.35,742.00 L500.15,742.00 L494.60,759.40 L489.05,742.00 L492.85,742.00 Z" fill="#000"/>
<text x="326.17" y="851.02" font-size="17.94" font-weight="bold" fill="#111" stroke="#111" stroke-width="0.317" textLength="10.29" lengthAdjust="spacingAndGlyphs">0</text>
<text x="509.50" y="851.04" font-size="16.38" font-weight="bold" fill="#111" stroke="#111" stroke-width="0.289" textLength="8.67" lengthAdjust="spacingAndGlyphs">8</text>
<text x="377.00" y="847.30" font-size="17.88" font-weight="bold" fill="#111" stroke="#111" stroke-width="0.315" textLength="88.58" lengthAdjust="spacingAndGlyphs">Time [min]</text>
<text x="5.14" y="19.60" font-size="26.02" font-weight="bold" fill="#111" stroke="#111" stroke-width="0.459" textLength="19.05" lengthAdjust="spacingAndGlyphs">A</text>
<text x="3.51" y="468.50" font-size="25.44" font-weight="bold" fill="#111" stroke="#111" stroke-width="0.449" textLength="18.24" lengthAdjust="spacingAndGlyphs">B</text>
<text x="294.36" y="21.24" font-size="26.69" font-weight="bold" fill="#111" stroke="#111" stroke-width="0.471" textLength="18.34" lengthAdjust="spacingAndGlyphs">C</text>
<text x="74.93" y="15.30" font-size="17.30" font-weight="bold" fill="#111" stroke="#111" stroke-width="0.305" textLength="133.05" lengthAdjust="spacingAndGlyphs">Jak2 (wild-type)</text>
<line x1="63.50" y1="131.80" x2="220.50" y2="131.80" stroke="#c8323e" stroke-width="0.9"/>
<line x1="63.50" y1="131.20" x2="220.50" y2="131.20" stroke="#3434c4" stroke-width="0.6" opacity="0.5"/>
<path d="M63.5,131.00 L157.5,130.97 L158.0,130.93 L158.5,130.85 L159.0,130.69 L159.5,130.40 L160.0,129.90 L160.5,129.10 L161.0,127.89 L161.5,126.14 L162.0,123.77 L162.5,120.76 L163.0,117.13 L163.5,113.04 L164.0,108.71 L164.5,104.45 L165.0,100.58 L165.5,97.39 L166.0,95.09 L166.5,93.75 L167.0,93.31 L167.5,93.48 L168.0,94.44 L168.5,96.35 L169.0,99.21 L169.5,102.84 L170.0,106.98 L170.5,111.32 L171.0,115.54 L171.5,119.37 L172.0,122.64 L172.5,125.27 L173.0,127.26 L173.5,128.67 L174.0,129.62 L174.5,130.23 L175.0,130.59 L175.5,130.79 L176.0,130.90 L176.5,130.96 L177.0,130.98 L220.5,131.00" fill="none" stroke="#3434c4" stroke-width="1.5" stroke-linejoin="round"/>
<path d="M63.5,128.36 L64.0,126.80 L64.5,124.63 L65.0,121.80 L65.5,118.32 L66.0,114.29 L66.5,109.91 L67.0,105.47 L67.5,101.30 L68.0,97.71 L68.5,94.96 L69.0,93.19 L69.5,92.39 L70.0,92.34 L70.5,92.96 L71.0,94.53 L71.5,97.09 L72.0,100.52 L72.5,104.60 L73.0,109.02 L73.5,113.43 L74.0,117.55 L74.5,121.16 L75.0,124.12 L75.5,126.42 L76.0,128.09 L76.5,129.25 L77.0,130.00 L77.5,130.45 L78.0,130.72 L78.5,130.86 L79.0,130.94 L79.5,130.97 L91.0,130.98 L91.5,130.96 L92.0,130.91 L92.5,130.80 L93.0,130.61 L93.5,130.25 L94.0,129.66 L94.5,128.70 L95.0,127.27 L95.5,125.23 L96.0,122.50 L96.5,119.06 L97.0,114.98 L97.5,110.44 L98.0,105.70 L98.5,101.10 L99.0,96.99 L99.5,93.68 L100.0,91.37 L100.5,90.12 L101.0,89.80 L101.5,90.12 L102.0,91.37 L102.5,93.68 L103.0,96.99 L103.5,101.10 L104.0,105.70 L104.5,110.44 L105.0,114.98 L105.5,119.06 L106.0,122.50 L106.5,125.23 L107.0,127.27 L107.5,128.70 L108.0,129.66 L108.5,130.25 L109.0,130.61 L109.5,130.80 L110.0,130.91 L110.5,130.96 L111.0,130.98 L220.5,131.00" fill="none" stroke="#3a9c3c" stroke-width="1.5" stroke-linejoin="round"/>
<path d="M63.5,131.00 L81.0,130.97 L81.5,130.94 L82.0,130.88 L82.5,130.75 L83.0,130.52 L83.5,130.13 L84.0,129.49 L84.5,128.52 L85.0,127.13 L85.5,125.25 L86.0,122.85 L86.5,119.96 L87.0,116.71 L87.5,113.27 L88.0,109.88 L88.5,106.79 L89.0,104.25 L89.5,102.42 L90.0,101.36 L90.5,101.01 L91.0,101.14 L91.5,101.90 L92.0,103.43 L92.5,105.70 L93.0,108.59 L93.5,111.89 L94.0,115.34 L94.5,118.70 L95.0,121.75 L95.5,124.35 L96.0,126.44 L96.5,128.02 L97.0,129.15 L97.5,129.90 L98.0,130.38 L98.5,130.66 L99.0,130.81 L99.5,130.86 L100.0,130.84 L100.5,130.72 L101.0,130.47 L101.5,130.02 L102.0,129.28 L102.5,128.12 L103.0,126.42 L103.5,124.06 L104.0,120.97 L104.5,117.17 L105.0,112.78 L105.5,108.00 L106.0,103.16 L106.5,98.61 L107.0,94.70 L107.5,91.70 L108.0,89.77 L108.5,88.90 L109.0,88.84 L109.5,89.52 L110.0,91.23 L110.5,94.02 L111.0,97.77 L111.5,102.22 L112.0,107.03 L112.5,111.84 L113.0,116.34 L113.5,120.27 L114.0,123.50 L114.5,126.00 L115.0,127.83 L115.5,129.09 L116.0,129.90 L116.5,130.40 L117.0,130.69 L117.5,130.85 L118.0,130.93 L118.5,130.97 L122.5,130.98 L123.0,130.95 L123.5,130.89 L124.0,130.76 L124.5,130.54 L125.0,130.14 L125.5,129.48 L126.0,128.45 L126.5,126.94 L127.0,124.85 L127.5,122.11 L128.0,118.75 L128.5,114.85 L129.0,110.62 L129.5,106.33 L130.0,102.29 L130.5,98.83 L131.0,96.17 L131.5,94.46 L132.0,93.69 L132.5,93.64 L133.0,94.24 L133.5,95.75 L134.0,98.23 L134.5,101.55 L135.0,105.49 L135.5,109.75 L136.0,114.02 L136.5,118.00 L137.0,121.49 L137.5,124.35 L138.0,126.57 L138.5,128.19 L139.0,129.31 L139.5,130.03 L140.0,130.47 L140.5,130.73 L141.0,130.87 L141.5,130.94 L142.0,130.97 L146.0,130.97 L146.5,130.93 L147.0,130.85 L147.5,130.70 L148.0,130.42 L148.5,129.94 L149.0,129.17 L149.5,127.99 L150.0,126.31 L150.5,124.02 L151.0,121.11 L151.5,117.61 L152.0,113.66 L152.5,109.48 L153.0,105.37 L153.5,101.63 L154.0,98.55 L154.5,96.32 L155.0,95.04 L155.5,94.61 L156.0,94.77 L156.5,95.70 L157.0,97.55 L157.5,100.31 L158.0,103.81 L158.5,107.81 L159.0,112.00 L159.5,116.07 L160.0,119.77 L160.5,122.93 L161.0,125.47 L161.5,127.39 L162.0,128.75 L162.5,129.67 L163.0,130.25 L163.5,130.60 L164.0,130.80 L164.5,130.90 L165.0,130.96 L165.5,130.98 L168.0,130.98 L168.5,130.96 L169.0,130.91 L169.5,130.80 L170.0,130.61 L170.5,130.25 L171.0,129.66 L171.5,128.70 L172.0,127.27 L172.5,125.23 L173.0,122.50 L173.5,119.06 L174.0,114.98 L174.5,110.44 L175.0,105.70 L175.5,101.10 L176.0,96.99 L176.5,93.68 L177.0,91.37 L177.5,90.12 L178.0,89.80 L178.5,90.12 L179.0,91.37 L179.5,93.68 L180.0,96.99 L180.5,101.10 L181.0,105.70 L181.5,110.44 L182.0,114.98 L182.5,119.06 L183.0,122.50 L183.5,125.23 L184.0,127.27 L184.5,128.70 L185.0,129.66 L185.5,130.25 L186.0,130.61 L186.5,130.80 L187.0,130.91 L187.5,130.96 L188.0,130.98 L192.5,130.97 L193.0,130.93 L193.5,130.85 L194.0,130.70 L194.5,130.42 L195.0,129.94 L195.5,129.17 L196.0,127.99 L196.5,126.31 L197.0,124.02 L197.5,121.11 L198.0,117.61 L198.5,113.66 L199.0,109.48 L199.5,105.37 L200.0,101.63 L200.5,98.55 L201.0,96.32 L201.5,95.04 L202.0,94.61 L202.5,94.77 L203.0,95.70 L203.5,97.55 L204.0,100.31 L204.5,103.81 L205.0,107.81 L205.5,112.00 L206.0,116.07 L206.5,119.77 L207.0,122.93 L207.5,125.47 L208.0,127.39 L208.5,128.75 L209.0,129.67 L209.5,130.25 L210.0,130.60 L210.5,130.80 L211.0,130.90 L211.5,130.96 L212.0,130.98 L216.5,130.97 L217.0,130.94 L217.5,130.88 L218.0,130.75 L218.5,130.53 L219.0,130.15 L219.5,129.55 L220.0,128.64 L220.5,127.36" fill="none" stroke="#c8323e" stroke-width="1.5" stroke-linejoin="round"/>
<path d="M63.5,120.08 L64.0,123.22 L64.5,125.72 L65.0,127.58 L65.5,128.90 L66.0,129.77 L66.5,130.32 L67.0,130.64 L67.5,130.82 L68.0,130.92 L68.5,130.96 L69.0,130.98 L72.0,130.97 L72.5,130.93 L73.0,130.85 L73.5,130.70 L74.0,130.41 L74.5,129.92 L75.0,129.11 L75.5,127.86 L76.0,126.05 L76.5,123.57 L77.0,120.37 L77.5,116.47 L78.0,112.02 L78.5,107.25 L79.0,102.49 L79.5,98.08 L80.0,94.37 L80.5,91.60 L81.0,89.91 L81.5,89.24 L82.0,89.30 L82.5,90.16 L83.0,92.07 L83.5,95.04 L84.0,98.92 L84.5,103.42 L85.0,108.22 L85.5,112.95 L86.0,117.30 L86.5,121.07 L87.0,124.12 L87.5,126.46 L88.0,128.15 L88.5,129.30 L89.0,130.04 L89.5,130.48 L90.0,130.74 L90.5,130.87 L91.0,130.94 L91.5,130.97 L113.5,130.97 L114.0,130.93 L114.5,130.85 L115.0,130.70 L115.5,130.40 L116.0,129.89 L116.5,129.05 L117.0,127.73 L117.5,125.79 L118.0,123.10 L118.5,119.59 L119.0,115.27 L119.5,110.27 L120.0,104.84 L120.5,99.33 L121.0,94.16 L121.5,89.71 L122.0,86.30 L122.5,84.11 L123.0,83.12 L123.5,83.05 L124.0,83.82 L124.5,85.76 L125.0,88.94 L125.5,93.20 L126.0,98.26 L126.5,103.73 L127.0,109.21 L127.5,114.32 L128.0,118.79 L128.5,122.47 L129.0,125.32 L129.5,127.39 L130.0,128.83 L130.5,129.75 L131.0,130.32 L131.5,130.65 L132.0,130.83 L132.5,130.92 L133.0,130.97 L133.5,130.99 L136.5,130.98 L137.0,130.94 L137.5,130.87 L138.0,130.74 L138.5,130.49 L139.0,130.05 L139.5,129.32 L140.0,128.19 L140.5,126.53 L141.0,124.22 L141.5,121.21 L142.0,117.50 L142.5,113.21 L143.0,108.55 L143.5,103.82 L144.0,99.38 L144.5,95.56 L145.0,92.63 L145.5,90.75 L146.0,89.90 L146.5,89.84 L147.0,90.50 L147.5,92.17 L148.0,94.90 L148.5,98.55 L149.0,102.90 L149.5,107.60 L150.0,112.30 L150.5,116.68 L151.0,120.52 L151.5,123.68 L152.0,126.12 L152.5,127.91 L153.0,129.13 L153.5,129.93 L154.0,130.42 L154.5,130.70 L155.0,130.85 L155.5,130.93 L156.0,130.97 L182.0,130.98 L182.5,130.96 L183.0,130.91 L183.5,130.80 L184.0,130.59 L184.5,130.21 L185.0,129.56 L185.5,128.52 L186.0,126.93 L186.5,124.64 L187.0,121.55 L187.5,117.60 L188.0,112.86 L188.5,107.51 L189.0,101.86 L189.5,96.29 L190.0,91.22 L190.5,87.05 L191.0,84.03 L191.5,82.29 L192.0,81.71 L192.5,81.93 L193.0,83.18 L193.5,85.69 L194.0,89.43 L194.5,94.18 L195.0,99.59 L195.5,105.27 L196.0,110.78 L196.5,115.80 L197.0,120.07 L197.5,123.51 L198.0,126.10 L198.5,127.96 L199.0,129.20 L199.5,129.99 L200.0,130.46 L200.5,130.73 L201.0,130.87 L201.5,130.94 L202.0,130.97 L204.0,130.98 L204.5,130.96 L205.0,130.91 L205.5,130.82 L206.0,130.63 L206.5,130.30 L207.0,129.74 L207.5,128.84 L208.0,127.49 L208.5,125.58 L209.0,123.02 L209.5,119.79 L210.0,115.95 L210.5,111.68 L211.0,107.23 L211.5,102.91 L212.0,99.06 L212.5,95.95 L213.0,93.78 L213.5,92.60 L214.0,92.30 L214.5,92.60 L215.0,93.78 L215.5,95.95 L216.0,99.06 L216.5,102.91 L217.0,107.23 L217.5,111.68 L218.0,115.95 L218.5,119.79 L219.0,123.02 L219.5,125.58 L220.0,127.49 L220.5,128.84" fill="none" stroke="#151515" stroke-width="1.5" stroke-linejoin="round"/>
<rect x="62.50" y="24.50" width="159.00" height="108.50" fill="none" stroke="#1a1a1a" stroke-width="1.4"/>
<text x="69.50" y="36.00" font-size="10.90" font-weight="normal" fill="#43a047" text-anchor="middle">A</text>
<text x="81.00" y="36.00" font-size="10.90" font-weight="normal" fill="#1a1a1a" text-anchor="middle">G</text>
<text x="89.50" y="36.00" font-size="10.90" font-weight="normal" fill="#c8343c" text-anchor="middle">T</text>
<text x="99.80" y="36.00" font-size="10.90" font-weight="normal" fill="#43a047" text-anchor="middle">A</text>
<text x="107.70" y="36.00" font-size="10.90" font-weight="normal" fill="#c8343c" text-anchor="middle">T</text>
<text x="121.70" y="36.00" font-size="10.90" font-weight="normal" fill="#1a1a1a" text-anchor="middle">G</text>
<text x="130.70" y="36.00" font-size="10.90" font-weight="normal" fill="#c8343c" text-anchor="middle">T</text>
<text x="145.40" y="36.00" font-size="10.90" font-weight="normal" fill="#1a1a1a" text-anchor="middle">G</text>
<text x="155.80" y="36.00" font-size="10.90" font-weight="normal" fill="#c8343c" text-anchor="middle">T</text>
<text x="165.60" y="36.00" font-size="10.90" font-weight="normal" fill="#3a3ad0" text-anchor="middle">C</text>
<text x="178.20" y="36.00" font-size="10.90" font-weight="normal" fill="#c8343c" text-anchor="middle">T</text>
<text x="190.60" y="36.00" font-size="10.90" font-weight="normal" fill="#1a1a1a" text-anchor="middle">G</text>
<text x="200.30" y="36.00" font-size="10.90" font-weight="normal" fill="#c8343c" text-anchor="middle">T</text>
<text x="212.40" y="36.00" font-size="10.90" font-weight="normal" fill="#1a1a1a" text-anchor="middle">G</text>
<path d="M144.60,58.70 L147.00,58.70 L147.00,71.00 L150.15,71.00 L145.80,85.20 L141.45,71.00 L144.60,71.00 Z" fill="#a2abab"/>
<text x="140.76" y="145.00" font-size="11.92" font-weight="bold" fill="#111" stroke="#111" stroke-width="0.210" textLength="81.21" lengthAdjust="spacingAndGlyphs">Sample # 3652</text>
<text x="4.74" y="165.00" font-size="16.72" font-weight="bold" fill="#111" stroke="#111" stroke-width="0.295" textLength="15.08" lengthAdjust="spacingAndGlyphs">5’</text>
<text x="24.68" y="165.00" font-size="16.72" font-weight="bold" fill="#111" stroke="#111" stroke-width="0.295" textLength="37.08" lengthAdjust="spacingAndGlyphs">GTA</text>
<text x="67.11" y="165.00" font-size="16.72" font-weight="bold" fill="#111" stroke="#111" stroke-width="0.295" textLength="34.58" lengthAdjust="spacingAndGlyphs">TGT</text>
<text x="108.79" y="165.00" font-size="16.72" font-weight="bold" fill="#111" stroke="#111" stroke-width="0.295" textLength="36.48" lengthAdjust="spacingAndGlyphs">GTC</text>
<text x="151.00" y="165.00" font-size="16.72" font-weight="bold" fill="#111" stroke="#111" stroke-width="0.295" textLength="34.88" lengthAdjust="spacingAndGlyphs">TGT</text>
<text x="191.79" y="165.00" font-size="16.72" font-weight="bold" fill="#111" stroke="#111" stroke-width="0.295" textLength="39.67" lengthAdjust="spacingAndGlyphs">GGA</text>
<text x="237.08" y="165.00" font-size="16.72" font-weight="bold" fill="#111" stroke="#111" stroke-width="0.295" textLength="15.15" lengthAdjust="spacingAndGlyphs">3’</text>
<text x="37.98" y="185.60" font-size="16.13" font-weight="bold" fill="#111" stroke="#111" stroke-width="0.285" textLength="11.84" lengthAdjust="spacingAndGlyphs">V</text>
<text x="78.57" y="185.45" font-size="15.68" font-weight="bold" fill="#111" stroke="#111" stroke-width="0.277" textLength="12.92" lengthAdjust="spacingAndGlyphs">C</text>
<text x="120.58" y="185.60" font-size="16.13" font-weight="bold" fill="#111" stroke="#111" stroke-width="0.285" textLength="11.23" lengthAdjust="spacingAndGlyphs">V</text>
<text x="160.59" y="185.45" font-size="15.68" font-weight="bold" fill="#111" stroke="#111" stroke-width="0.277" textLength="12.48" lengthAdjust="spacingAndGlyphs">C</text>
<text x="202.23" y="185.45" font-size="15.68" font-weight="bold" fill="#111" stroke="#111" stroke-width="0.277" textLength="14.52" lengthAdjust="spacingAndGlyphs">G</text>
<text x="88.43" y="234.20" font-size="16.86" font-weight="bold" fill="#111" stroke="#111" stroke-width="0.298" textLength="108.96" lengthAdjust="spacingAndGlyphs">Jak2 (V617F)</text>
<line x1="63.50" y1="350.30" x2="220.50" y2="350.30" stroke="#c8323e" stroke-width="0.9"/>
<path d="M63.5,349.60 L157.5,349.57 L158.0,349.53 L158.5,349.45 L159.0,349.29 L159.5,349.01 L160.0,348.54 L160.5,347.78 L161.0,346.64 L161.5,345.03 L162.0,342.87 L162.5,340.15 L163.0,336.93 L163.5,333.33 L164.0,329.58 L164.5,325.94 L165.0,322.69 L165.5,320.07 L166.0,318.25 L166.5,317.26 L167.0,317.00 L167.5,317.26 L168.0,318.25 L168.5,320.07 L169.0,322.69 L169.5,325.94 L170.0,329.58 L170.5,333.33 L171.0,336.93 L171.5,340.15 L172.0,342.87 L172.5,345.03 L173.0,346.64 L173.5,347.78 L174.0,348.54 L174.5,349.01 L175.0,349.29 L175.5,349.45 L176.0,349.53 L176.5,349.57 L221.0,349.60" fill="none" stroke="#3434c4" stroke-width="1.5" stroke-linejoin="round"/>
<path d="M63.5,347.30 L64.0,345.98 L64.5,344.16 L65.0,341.82 L65.5,338.97 L66.0,335.71 L66.5,332.22 L67.0,328.73 L67.5,325.50 L68.0,322.78 L68.5,320.76 L69.0,319.52 L69.5,319.03 L70.0,319.07 L70.5,319.71 L71.0,321.10 L71.5,323.28 L72.0,326.11 L72.5,329.41 L73.0,332.92 L73.5,336.39 L74.0,339.57 L74.5,342.33 L75.0,344.57 L75.5,346.28 L76.0,347.51 L76.5,348.35 L77.0,348.89 L77.5,349.22 L78.0,349.41 L78.5,349.51 L79.0,349.56 L79.5,349.58 L91.0,349.58 L91.5,349.55 L92.0,349.50 L92.5,349.39 L93.0,349.19 L93.5,348.84 L94.0,348.26 L94.5,347.36 L95.0,346.03 L95.5,344.19 L96.0,341.78 L96.5,338.82 L97.0,335.39 L97.5,331.67 L98.0,327.90 L98.5,324.35 L99.0,321.30 L99.5,318.96 L100.0,317.46 L100.5,316.78 L101.0,316.73 L101.5,317.26 L102.0,318.59 L102.5,320.77 L103.0,323.69 L103.5,327.16 L104.0,330.91 L104.5,334.66 L105.0,338.17 L105.5,341.23 L106.0,343.75 L106.5,345.70 L107.0,347.13 L107.5,348.11 L108.0,348.75 L108.5,349.14 L109.0,349.36 L109.5,349.48 L110.0,349.55 L110.5,349.58 L221.0,349.60" fill="none" stroke="#3a9c3c" stroke-width="1.5" stroke-linejoin="round"/>
<path d="M63.5,349.60 L81.0,349.58 L81.5,349.54 L82.0,349.48 L82.5,349.37 L83.0,349.15 L83.5,348.80 L84.0,348.23 L84.5,347.37 L85.0,346.15 L85.5,344.53 L86.0,342.47 L86.5,340.04 L87.0,337.32 L87.5,334.49 L88.0,331.75 L88.5,329.29 L89.0,327.32 L89.5,325.94 L90.0,325.19 L90.5,325.00 L91.0,325.19 L91.5,325.94 L92.0,327.32 L92.5,329.29 L93.0,331.75 L93.5,334.49 L94.0,337.32 L94.5,340.04 L95.0,342.47 L95.5,344.53 L96.0,346.15 L96.5,347.37 L97.0,348.23 L97.5,348.80 L98.0,349.15 L98.5,349.36 L99.0,349.47 L99.5,349.51 L100.0,349.50 L100.5,349.43 L101.0,349.27 L101.5,348.99 L102.0,348.50 L102.5,347.71 L103.0,346.54 L103.5,344.86 L104.0,342.63 L104.5,339.81 L105.0,336.46 L105.5,332.73 L106.0,328.84 L106.5,325.07 L107.0,321.70 L107.5,318.99 L108.0,317.09 L108.5,316.07 L109.0,315.80 L109.5,316.07 L110.0,317.09 L110.5,318.99 L111.0,321.70 L111.5,325.07 L112.0,328.84 L112.5,332.73 L113.0,336.46 L113.5,339.81 L114.0,342.63 L114.5,344.86 L115.0,346.54 L115.5,347.71 L116.0,348.50 L116.5,348.99 L117.0,349.28 L117.5,349.44 L118.0,349.52 L118.5,349.57 L122.5,349.57 L123.0,349.53 L123.5,349.45 L124.0,349.30 L124.5,349.03 L125.0,348.58 L125.5,347.86 L126.0,346.77 L126.5,345.23 L127.0,343.16 L127.5,340.56 L128.0,337.47 L128.5,334.03 L129.0,330.44 L129.5,326.96 L130.0,323.85 L130.5,321.34 L131.0,319.59 L131.5,318.65 L132.0,318.40 L132.5,318.64 L133.0,319.59 L133.5,321.33 L134.0,323.82 L134.5,326.90 L135.0,330.32 L135.5,333.80 L136.0,337.03 L136.5,339.75 L137.0,341.77 L137.5,342.94 L138.0,343.20 L138.5,342.55 L139.0,341.06 L139.5,338.84 L140.0,336.11 L140.5,333.08 L141.0,330.03 L141.5,327.22 L142.0,324.89 L142.5,323.21 L143.0,322.23 L143.5,321.90 L144.0,322.03 L144.5,322.73 L145.0,324.14 L145.5,326.23 L146.0,328.87 L146.5,331.87 L147.0,334.96 L147.5,337.87 L148.0,340.37 L148.5,342.23 L149.0,343.30 L149.5,343.49 L150.0,342.75 L150.5,341.10 L151.0,338.61 L151.5,335.44 L152.0,331.81 L152.5,328.00 L153.0,324.32 L153.5,321.08 L154.0,318.53 L154.5,316.82 L155.0,315.96 L155.5,315.81 L156.0,316.20 L156.5,317.40 L157.0,319.47 L157.5,322.33 L158.0,325.80 L158.5,329.62 L159.0,333.50 L159.5,337.17 L160.0,340.42 L160.5,343.12 L161.0,345.24 L161.5,346.81 L162.0,347.90 L162.5,348.62 L163.0,349.06 L163.5,349.32 L164.0,349.46 L164.5,349.54 L165.0,349.57 L168.5,349.58 L169.0,349.56 L169.5,349.50 L170.0,349.40 L170.5,349.20 L171.0,348.86 L171.5,348.30 L172.0,347.42 L172.5,346.13 L173.0,344.34 L173.5,342.00 L174.0,339.11 L174.5,335.78 L175.0,332.16 L175.5,328.49 L176.0,325.04 L176.5,322.07 L177.0,319.80 L177.5,318.34 L178.0,317.68 L178.5,317.63 L179.0,318.14 L179.5,319.44 L180.0,321.56 L180.5,324.40 L181.0,327.77 L181.5,331.42 L182.0,335.07 L182.5,338.48 L183.0,341.46 L183.5,343.91 L184.0,345.81 L184.5,347.20 L185.0,348.15 L185.5,348.77 L186.0,349.15 L186.5,349.37 L187.0,349.49 L187.5,349.55 L188.0,349.58 L192.0,349.57 L192.5,349.54 L193.0,349.48 L193.5,349.35 L194.0,349.12 L194.5,348.72 L195.0,348.07 L195.5,347.10 L196.0,345.69 L196.5,343.79 L197.0,341.37 L197.5,338.45 L198.0,335.16 L198.5,331.69 L199.0,328.26 L199.5,325.15 L200.0,322.59 L200.5,320.73 L201.0,319.66 L201.5,319.31 L202.0,319.44 L202.5,320.21 L203.0,321.75 L203.5,324.05 L204.0,326.97 L204.5,330.30 L205.0,333.78 L205.5,337.17 L206.0,340.26 L206.5,342.88 L207.0,345.00 L207.5,346.59 L208.0,347.73 L208.5,348.49 L209.0,348.98 L209.5,349.27 L210.0,349.43 L210.5,349.52 L211.0,349.56 L211.5,349.58 L216.5,349.58 L217.0,349.56 L217.5,349.51 L218.0,349.41 L218.5,349.24 L219.0,348.96 L219.5,348.51 L220.0,347.82 L220.5,346.85 L221.0,345.56" fill="none" stroke="#c8323e" stroke-width="1.5" stroke-linejoin="round"/>
<path d="M63.5,339.75 L64.0,342.59 L64.5,344.84 L65.0,346.52 L65.5,347.70 L66.0,348.49 L66.5,348.98 L67.0,349.28 L67.5,349.44 L68.0,349.52 L68.5,349.57 L71.5,349.58 L72.0,349.56 L72.5,349.52 L73.0,349.43 L73.5,349.25 L74.0,348.94 L74.5,348.42 L75.0,347.57 L75.5,346.31 L76.0,344.51 L76.5,342.11 L77.0,339.08 L77.5,335.49 L78.0,331.48 L78.5,327.31 L79.0,323.25 L79.5,319.64 L80.0,316.72 L80.5,314.69 L81.0,313.59 L81.5,313.30 L82.0,313.59 L82.5,314.69 L83.0,316.72 L83.5,319.64 L84.0,323.25 L84.5,327.31 L85.0,331.48 L85.5,335.49 L86.0,339.08 L86.5,342.11 L87.0,344.51 L87.5,346.31 L88.0,347.57 L88.5,348.42 L89.0,348.94 L89.5,349.25 L90.0,349.43 L90.5,349.52 L91.0,349.56 L91.5,349.58 L113.5,349.57 L114.0,349.54 L114.5,349.47 L115.0,349.33 L115.5,349.06 L116.0,348.60 L116.5,347.84 L117.0,346.65 L117.5,344.90 L118.0,342.48 L118.5,339.31 L119.0,335.41 L119.5,330.90 L120.0,326.00 L120.5,321.03 L121.0,316.37 L121.5,312.35 L122.0,309.28 L122.5,307.30 L123.0,306.41 L123.5,306.34 L124.0,307.04 L124.5,308.79 L125.0,311.66 L125.5,315.50 L126.0,320.07 L126.5,325.00 L127.0,329.94 L127.5,334.55 L128.0,338.59 L128.5,341.90 L129.0,344.47 L129.5,346.35 L130.0,347.64 L130.5,348.48 L131.0,348.99 L131.5,349.29 L132.0,349.45 L132.5,349.53 L133.0,349.57 L135.5,349.57 L136.0,349.55 L136.5,349.51 L137.0,349.44 L137.5,349.34 L138.0,349.20 L138.5,349.01 L139.0,348.76 L139.5,348.46 L140.0,348.12 L140.5,347.77 L141.0,347.42 L141.5,347.10 L142.0,346.84 L142.5,346.65 L143.0,346.54 L143.5,346.50 L144.0,346.51 L144.5,346.59 L145.0,346.75 L145.5,346.99 L146.0,347.28 L146.5,347.63 L147.0,347.98 L147.5,348.33 L148.0,348.64 L148.5,348.91 L149.0,349.13 L149.5,349.29 L150.0,349.41 L150.5,349.49 L151.0,349.54 L151.5,349.57 L182.5,349.59 L183.0,349.56 L183.5,349.52 L184.0,349.43 L184.5,349.25 L185.0,348.92 L185.5,348.36 L186.0,347.47 L186.5,346.10 L187.0,344.13 L187.5,341.47 L188.0,338.08 L188.5,334.00 L189.0,329.40 L189.5,324.54 L190.0,319.74 L190.5,315.39 L191.0,311.80 L191.5,309.21 L192.0,307.71 L192.5,307.21 L193.0,307.40 L193.5,308.48 L194.0,310.63 L194.5,313.85 L195.0,317.93 L195.5,322.59 L196.0,327.47 L196.5,332.21 L197.0,336.52 L197.5,340.20 L198.0,343.16 L198.5,345.39 L199.0,346.98 L199.5,348.05 L200.0,348.73 L200.5,349.14 L201.0,349.37 L201.5,349.49 L202.0,349.55 L202.5,349.58 L204.0,349.58 L204.5,349.56 L205.0,349.51 L205.5,349.41 L206.0,349.22 L206.5,348.88 L207.0,348.30 L207.5,347.38 L208.0,345.99 L208.5,344.02 L209.0,341.39 L209.5,338.07 L210.0,334.13 L210.5,329.74 L211.0,325.16 L211.5,320.71 L212.0,316.75 L212.5,313.55 L213.0,311.32 L213.5,310.11 L214.0,309.80 L214.5,310.11 L215.0,311.32 L215.5,313.55 L216.0,316.75 L216.5,320.71 L217.0,325.16 L217.5,329.74 L218.0,334.13 L218.5,338.07 L219.0,341.39 L219.5,344.02 L220.0,345.99 L220.5,347.38 L221.0,348.30" fill="none" stroke="#151515" stroke-width="1.5" stroke-linejoin="round"/>
<rect x="62.50" y="243.00" width="159.50" height="109.30" fill="none" stroke="#1a1a1a" stroke-width="1.4"/>
<text x="68.50" y="254.00" font-size="10.17" font-weight="normal" fill="#43a047" text-anchor="middle">A</text>
<text x="79.90" y="254.00" font-size="10.17" font-weight="normal" fill="#1a1a1a" text-anchor="middle">G</text>
<text x="90.10" y="254.00" font-size="10.17" font-weight="normal" fill="#c8343c" text-anchor="middle">T</text>
<text x="100.30" y="254.00" font-size="10.17" font-weight="normal" fill="#43a047" text-anchor="middle">A</text>
<text x="108.30" y="254.00" font-size="10.17" font-weight="normal" fill="#c8343c" text-anchor="middle">T</text>
<text x="123.10" y="254.00" font-size="10.17" font-weight="normal" fill="#1a1a1a" text-anchor="middle">G</text>
<text x="131.10" y="254.00" font-size="10.17" font-weight="normal" fill="#c8343c" text-anchor="middle">T</text>
<text x="142.90" y="254.00" font-size="10.17" font-weight="normal" fill="#c8343c" text-anchor="middle">T</text>
<text x="155.00" y="254.00" font-size="10.17" font-weight="normal" fill="#c8343c" text-anchor="middle">T</text>
<text x="166.30" y="254.00" font-size="10.17" font-weight="normal" fill="#3a3ad0" text-anchor="middle">C</text>
<text x="178.50" y="254.00" font-size="10.17" font-weight="normal" fill="#c8343c" text-anchor="middle">T</text>
<text x="191.20" y="254.00" font-size="10.17" font-weight="normal" fill="#1a1a1a" text-anchor="middle">G</text>
<text x="201.10" y="254.00" font-size="10.17" font-weight="normal" fill="#c8343c" text-anchor="middle">T</text>
<text x="212.80" y="254.00" font-size="10.17" font-weight="normal" fill="#1a1a1a" text-anchor="middle">G</text>
<path d="M142.35,290.40 L144.65,290.40 L144.65,302.80 L148.05,302.80 L143.50,316.90 L138.95,302.80 L142.35,302.80 Z" fill="#000"/>
<text x="140.16" y="365.50" font-size="12.65" font-weight="bold" fill="#111" stroke="#111" stroke-width="0.223" textLength="81.67" lengthAdjust="spacingAndGlyphs">Sample # 2125</text>
<text x="7.23" y="387.90" font-size="16.28" font-weight="bold" fill="#111" stroke="#111" stroke-width="0.287" textLength="12.82" lengthAdjust="spacingAndGlyphs">5’</text>
<text x="26.96" y="387.90" font-size="16.28" font-weight="bold" fill="#111" stroke="#111" stroke-width="0.287" textLength="38.12" lengthAdjust="spacingAndGlyphs">GTA</text>
<text x="71.20" y="387.90" font-size="16.28" font-weight="bold" fill="#111" stroke="#111" stroke-width="0.287" textLength="34.98" lengthAdjust="spacingAndGlyphs">TGT</text>
<text x="152.82" y="387.90" font-size="16.28" font-weight="bold" fill="#111" stroke="#111" stroke-width="0.287" textLength="32.56" lengthAdjust="spacingAndGlyphs">TGT</text>
<text x="191.28" y="387.90" font-size="16.28" font-weight="bold" fill="#111" stroke="#111" stroke-width="0.287" textLength="39.88" lengthAdjust="spacingAndGlyphs">GGA</text>
<text x="236.61" y="387.90" font-size="16.28" font-weight="bold" fill="#111" stroke="#111" stroke-width="0.287" textLength="14.25" lengthAdjust="spacingAndGlyphs">3’</text>
<text x="112.11" y="387.90" font-size="16.28" font-weight="bold" fill="#111" stroke="#111" stroke-width="0.287" textLength="32.95" lengthAdjust="spacingAndGlyphs"><tspan fill="#d0141e" stroke="#d0141e">T</tspan>TC</text>
<text x="40.08" y="409.00" font-size="16.86" font-weight="bold" fill="#111" stroke="#111" stroke-width="0.298" textLength="11.23" lengthAdjust="spacingAndGlyphs">V</text>
<text x="79.54" y="408.84" font-size="16.38" font-weight="bold" fill="#111" stroke="#111" stroke-width="0.289" textLength="13.37" lengthAdjust="spacingAndGlyphs">C</text>
<text x="121.85" y="409.00" font-size="16.86" font-weight="bold" fill="#d0141e" stroke="#d0141e" stroke-width="0.298" textLength="11.44" lengthAdjust="spacingAndGlyphs">F</text>
<text x="161.59" y="408.84" font-size="16.38" font-weight="bold" fill="#111" stroke="#111" stroke-width="0.289" textLength="12.48" lengthAdjust="spacingAndGlyphs">C</text>
<text x="202.49" y="408.84" font-size="16.38" font-weight="bold" fill="#111" stroke="#111" stroke-width="0.289" textLength="13.37" lengthAdjust="spacingAndGlyphs">G</text>
<rect x="109.50" y="369.20" width="37.40" height="42.80" fill="none" stroke="#1a1a1a" stroke-width="1.4"/>
<text x="80.73" y="500.50" font-size="18.46" font-weight="bold" fill="#111" stroke="#111" stroke-width="0.326" textLength="133.66" lengthAdjust="spacingAndGlyphs">Jak2 (wild-type)</text>
<text x="161.26" y="520.20" font-size="12.50" font-weight="bold" fill="#111" stroke="#111" stroke-width="0.221" textLength="78.11" lengthAdjust="spacingAndGlyphs">Sample #3652</text>
<text x="3.75" y="513.84" font-size="16.24" font-weight="bold" fill="#111" stroke="#111" stroke-width="0.287" textLength="29.58" lengthAdjust="spacingAndGlyphs">600</text>
<rect x="39.00" y="507.90" width="5.20" height="2.30" fill="#111"/>
<text x="24.80" y="647.52" font-size="18.36" font-weight="bold" fill="#111" stroke="#111" stroke-width="0.324" textLength="11.23" lengthAdjust="spacingAndGlyphs">0</text>
<rect x="41.00" y="641.50" width="5.25" height="2.40" fill="#111"/>
<text transform="translate(26.90,588.00) rotate(-90)" x="0" y="0" font-size="19.77" font-weight="bold" fill="#111" stroke="#111" stroke-width="0.349" textLength="28.22" lengthAdjust="spacingAndGlyphs">mV</text>
<rect x="52.30" y="655.20" width="2.50" height="5.20" fill="#111"/>
<rect x="239.30" y="655.40" width="2.30" height="5.00" fill="#111"/>
<text x="50.02" y="682.51" font-size="19.63" font-weight="bold" fill="#111" stroke="#111" stroke-width="0.346" textLength="10.99" lengthAdjust="spacingAndGlyphs">0</text>
<text x="237.41" y="682.51" font-size="19.07" font-weight="bold" fill="#111" stroke="#111" stroke-width="0.336" textLength="10.36" lengthAdjust="spacingAndGlyphs">8</text>
<line x1="140.00" y1="645.00" x2="240.50" y2="645.00" stroke="#cfe8d8" stroke-width="0.8"/>
<path d="M53.0,644.80 L59.2,644.80" fill="none" stroke="#333" stroke-width="1.2" stroke-linejoin="round"/>
<line x1="59.20" y1="644.80" x2="59.20" y2="508.50" stroke="#c8323e" stroke-width="1.3" opacity="0.5"/>
<line x1="59.20" y1="644.80" x2="59.20" y2="508.50" stroke="#111" stroke-width="1.3" stroke-dasharray="4,1.5"/>
<path d="M64.80,509.00 C64.93,514.25 65.33,530.25 65.60,540.50 C65.87,550.75 66.12,562.17 66.40,570.50 C66.68,578.83 67.00,583.33 67.30,590.50 C67.60,597.67 67.92,608.17 68.20,613.50 C68.48,618.83 68.67,620.00 69.00,622.50 C69.33,625.00 69.78,626.75 70.20,628.50 C70.62,630.25 71.03,631.67 71.50,633.00 C71.97,634.33 72.42,635.45 73.00,636.50 C73.58,637.55 74.22,638.52 75.00,639.30 C75.78,640.08 76.78,640.67 77.70,641.20 C78.62,641.73 79.35,642.15 80.50,642.50 C81.65,642.85 82.38,643.08 84.60,643.30 C86.82,643.52 90.73,643.85 93.80,643.80 C96.87,643.75 100.55,643.30 103.00,643.00 C105.45,642.70 107.00,641.98 108.50,642.00 C110.00,642.02 110.70,642.85 112.00,643.10 C113.30,643.35 114.80,643.57 116.30,643.50 C117.80,643.43 119.42,642.95 121.00,642.70 C122.58,642.45 123.80,642.07 125.80,642.00 C127.80,641.93 130.53,642.30 133.00,642.30 C135.47,642.30 138.27,642.10 140.60,642.00 C142.93,641.90 144.98,641.83 147.00,641.70 C149.02,641.57 150.87,641.25 152.70,641.20 C154.53,641.15 155.95,641.40 158.00,641.40 C160.05,641.40 163.00,641.45 165.00,641.20 C167.00,640.95 168.47,640.27 170.00,639.90 C171.53,639.53 172.70,639.30 174.20,639.00 C175.70,638.70 177.45,638.43 179.00,638.10 C180.55,637.77 182.33,637.00 183.50,637.00 C184.67,637.00 185.25,637.77 186.00,638.10 C186.75,638.43 187.17,639.03 188.00,639.00 C188.83,638.97 189.70,638.23 191.00,637.90 C192.30,637.57 194.13,637.47 195.80,637.00 C197.47,636.53 199.22,635.85 201.00,635.10 C202.78,634.35 204.83,633.10 206.50,632.50 C208.17,631.90 209.45,631.83 211.00,631.50 C212.55,631.17 214.38,631.17 215.80,630.50 C217.22,629.83 218.43,628.38 219.50,627.50 C220.57,626.62 221.37,625.10 222.20,625.20 C223.03,625.30 223.78,627.15 224.50,628.10 C225.22,629.05 225.67,630.63 226.50,630.90 C227.33,631.17 228.47,630.10 229.50,629.70 C230.53,629.30 231.53,628.90 232.70,628.50 C233.87,628.10 235.20,627.70 236.50,627.30 C237.80,626.90 239.83,626.30 240.50,626.10" fill="none" stroke="#a0303a" stroke-width="1.3" stroke-linejoin="round"/>
<path d="M64.80,508.50 C64.93,513.75 65.33,529.75 65.60,540.00 C65.87,550.25 66.12,561.67 66.40,570.00 C66.68,578.33 67.00,582.83 67.30,590.00 C67.60,597.17 67.92,607.67 68.20,613.00 C68.48,618.33 68.67,619.50 69.00,622.00 C69.33,624.50 69.78,626.25 70.20,628.00 C70.62,629.75 71.03,631.17 71.50,632.50 C71.97,633.83 72.42,634.95 73.00,636.00 C73.58,637.05 74.22,638.02 75.00,638.80 C75.78,639.58 77.25,640.38 77.70,640.70" fill="none" stroke="#5a2a2e" stroke-width="1.2" stroke-linejoin="round"/>
<path d="M77.70,640.70 C78.17,640.92 79.35,641.65 80.50,642.00 C81.65,642.35 82.38,642.58 84.60,642.80 C86.82,643.02 90.73,643.35 93.80,643.30 C96.87,643.25 100.55,642.80 103.00,642.50 C105.45,642.20 107.00,641.48 108.50,641.50 C110.00,641.52 110.70,642.35 112.00,642.60 C113.30,642.85 114.80,643.07 116.30,643.00 C117.80,642.93 119.42,642.45 121.00,642.20 C122.58,641.95 123.80,641.57 125.80,641.50 C127.80,641.43 130.53,641.80 133.00,641.80 C135.47,641.80 138.27,641.60 140.60,641.50 C142.93,641.40 144.98,641.33 147.00,641.20 C149.02,641.07 150.87,640.75 152.70,640.70 C154.53,640.65 155.95,640.90 158.00,640.90 C160.05,640.90 163.00,640.95 165.00,640.70 C167.00,640.45 168.47,639.77 170.00,639.40 C171.53,639.03 172.70,638.80 174.20,638.50 C175.70,638.20 177.45,637.93 179.00,637.60 C180.55,637.27 182.33,636.50 183.50,636.50 C184.67,636.50 185.25,637.27 186.00,637.60 C186.75,637.93 187.17,638.53 188.00,638.50 C188.83,638.47 189.70,637.73 191.00,637.40 C192.30,637.07 194.13,636.97 195.80,636.50 C197.47,636.03 199.22,635.35 201.00,634.60 C202.78,633.85 204.83,632.60 206.50,632.00 C208.17,631.40 209.45,631.33 211.00,631.00 C212.55,630.67 214.38,630.67 215.80,630.00 C217.22,629.33 218.43,627.88 219.50,627.00 C220.57,626.12 221.37,624.60 222.20,624.70 C223.03,624.80 223.78,626.65 224.50,627.60 C225.22,628.55 225.67,630.30 226.50,630.40 C227.33,630.50 228.47,628.83 229.50,628.20 C230.53,627.57 231.53,627.20 232.70,626.60 C233.87,626.00 235.20,625.27 236.50,624.60 C237.80,623.93 239.83,622.93 240.50,622.60" fill="none" stroke="#1a1212" stroke-width="1.6" stroke-linejoin="round" stroke-dasharray="5,1.5"/>
<rect x="52.90" y="508.30" width="188.40" height="139.90" fill="none" stroke="#1a1a1a" stroke-width="1.6"/>
<path d="M201.40,590.80 L204.60,590.80 L204.60,600.20 L208.60,600.20 L203.00,617.30 L197.40,600.20 L201.40,600.20 Z" fill="#000"/>
<path d="M216.85,586.50 L220.15,586.50 L220.15,595.80 L223.85,595.80 L218.50,612.70 L213.15,595.80 L216.85,595.80 Z" fill="#000"/>
<text x="94.53" y="714.00" font-size="18.46" font-weight="bold" fill="#111" stroke="#111" stroke-width="0.326" textLength="108.05" lengthAdjust="spacingAndGlyphs">Jak2 (V617F)</text>
<text x="159.86" y="733.00" font-size="12.65" font-weight="bold" fill="#111" stroke="#111" stroke-width="0.223" textLength="78.27" lengthAdjust="spacingAndGlyphs">Sample #2683</text>
<text x="3.75" y="725.74" font-size="16.38" font-weight="bold" fill="#111" stroke="#111" stroke-width="0.289" textLength="29.58" lengthAdjust="spacingAndGlyphs">600</text>
<rect x="39.00" y="719.50" width="5.20" height="2.90" fill="#111"/>
<text x="24.59" y="859.62" font-size="18.36" font-weight="bold" fill="#111" stroke="#111" stroke-width="0.324" textLength="11.46" lengthAdjust="spacingAndGlyphs">0</text>
<rect x="41.00" y="853.30" width="5.25" height="2.60" fill="#111"/>
<text transform="translate(26.90,800.00) rotate(-90)" x="0" y="0" font-size="19.48" font-weight="bold" fill="#111" stroke="#111" stroke-width="0.344" textLength="28.22" lengthAdjust="spacingAndGlyphs">mV</text>
<rect x="52.70" y="865.20" width="2.70" height="5.20" fill="#111"/>
<rect x="239.10" y="865.40" width="2.50" height="5.00" fill="#111"/>
<text x="50.02" y="891.01" font-size="19.35" font-weight="bold" fill="#111" stroke="#111" stroke-width="0.341" textLength="10.99" lengthAdjust="spacingAndGlyphs">0</text>
<text x="236.42" y="891.02" font-size="18.64" font-weight="bold" fill="#111" stroke="#111" stroke-width="0.329" textLength="10.14" lengthAdjust="spacingAndGlyphs">8</text>
<text x="104.60" y="889.20" font-size="16.72" font-weight="bold" fill="#111" stroke="#111" stroke-width="0.295" textLength="88.28" lengthAdjust="spacingAndGlyphs">Time [min]</text>
<rect x="53.5" y="722" width="6" height="135" fill="#f5fcee"/>
<path d="M53.0,857.00 L59.2,857.00" fill="none" stroke="#333" stroke-width="1.2" stroke-linejoin="round"/>
<line x1="59.20" y1="857.00" x2="59.20" y2="721.50" stroke="#7ccc3a" stroke-width="1.3" opacity="0.6"/>
<line x1="59.20" y1="857.00" x2="59.20" y2="721.50" stroke="#111" stroke-width="1.3" stroke-dasharray="4,1.5"/>
<path d="M65.00,721.50 C65.13,726.25 65.53,740.58 65.80,750.00 C66.07,759.42 66.35,769.67 66.60,778.00 C66.85,786.33 66.98,792.50 67.30,800.00 C67.62,807.50 68.13,817.50 68.50,823.00 C68.87,828.50 69.12,830.10 69.50,833.00 C69.88,835.90 70.33,838.32 70.80,840.40 C71.27,842.48 71.73,843.97 72.30,845.50 C72.87,847.03 73.53,848.47 74.20,849.60 C74.87,850.73 75.53,851.53 76.30,852.30 C77.07,853.07 77.93,853.67 78.80,854.20 C79.67,854.73 80.47,855.15 81.50,855.50 C82.53,855.85 83.25,856.15 85.00,856.30 C86.75,856.45 89.50,856.52 92.00,856.40 C94.50,856.28 98.17,855.67 100.00,855.60 C101.83,855.53 102.00,856.07 103.00,856.00 C104.00,855.93 105.03,855.50 106.00,855.20 C106.97,854.90 107.63,854.20 108.80,854.20 C109.97,854.20 111.27,854.97 113.00,855.20 C114.73,855.43 117.53,855.63 119.20,855.60 C120.87,855.57 121.72,855.17 123.00,855.00 C124.28,854.83 124.90,854.63 126.90,854.60 C128.90,854.57 131.48,854.87 135.00,854.80 C138.52,854.73 144.50,854.37 148.00,854.20 C151.50,854.03 153.42,854.00 156.00,853.80 C158.58,853.60 161.17,853.27 163.50,853.00 C165.83,852.73 167.75,852.57 170.00,852.20 C172.25,851.83 175.17,851.33 177.00,850.80 C178.83,850.27 179.73,849.80 181.00,849.00 C182.27,848.20 183.60,846.33 184.60,846.00 C185.60,845.67 186.20,846.53 187.00,847.00 C187.80,847.47 188.48,848.88 189.40,848.80 C190.32,848.72 191.40,847.63 192.50,846.50 C193.60,845.37 194.92,843.92 196.00,842.00 C197.08,840.08 198.00,838.17 199.00,835.00 C200.00,831.83 201.17,825.83 202.00,823.00 C202.83,820.17 203.37,819.12 204.00,818.00 C204.63,816.88 205.17,816.22 205.80,816.30 C206.43,816.38 207.18,817.22 207.80,818.50 C208.42,819.78 208.97,822.28 209.50,824.00 C210.03,825.72 210.42,828.22 211.00,828.80 C211.58,829.38 212.25,829.13 213.00,827.50 C213.75,825.87 214.67,822.25 215.50,819.00 C216.33,815.75 217.12,811.62 218.00,808.00 C218.88,804.38 220.10,796.97 220.80,797.30 C221.50,797.63 221.75,804.88 222.20,810.00 C222.65,815.12 223.12,823.63 223.50,828.00 C223.88,832.37 223.92,834.12 224.50,836.20 C225.08,838.28 226.00,839.43 227.00,840.50 C228.00,841.57 229.33,842.43 230.50,842.60 C231.67,842.77 232.92,842.02 234.00,841.50 C235.08,840.98 235.83,840.33 237.00,839.50 C238.17,838.67 240.33,837.00 241.00,836.50" fill="none" stroke="#d8f5b0" stroke-width="2.2" stroke-linejoin="round"/>
<path d="M65.00,721.50 C65.13,726.25 65.53,740.58 65.80,750.00 C66.07,759.42 66.35,769.67 66.60,778.00 C66.85,786.33 66.98,792.50 67.30,800.00 C67.62,807.50 68.13,817.50 68.50,823.00 C68.87,828.50 69.12,830.10 69.50,833.00 C69.88,835.90 70.33,838.32 70.80,840.40 C71.27,842.48 71.73,843.97 72.30,845.50 C72.87,847.03 73.53,848.47 74.20,849.60 C74.87,850.73 75.53,851.53 76.30,852.30 C77.07,853.07 77.93,853.67 78.80,854.20 C79.67,854.73 80.47,855.15 81.50,855.50 C82.53,855.85 83.25,856.15 85.00,856.30 C86.75,856.45 89.50,856.52 92.00,856.40 C94.50,856.28 98.17,855.67 100.00,855.60 C101.83,855.53 102.00,856.07 103.00,856.00 C104.00,855.93 105.03,855.50 106.00,855.20 C106.97,854.90 107.63,854.20 108.80,854.20 C109.97,854.20 111.27,854.97 113.00,855.20 C114.73,855.43 117.53,855.63 119.20,855.60 C120.87,855.57 121.72,855.17 123.00,855.00 C124.28,854.83 124.90,854.63 126.90,854.60 C128.90,854.57 131.48,854.87 135.00,854.80 C138.52,854.73 144.50,854.37 148.00,854.20 C151.50,854.03 153.42,854.00 156.00,853.80 C158.58,853.60 161.17,853.27 163.50,853.00 C165.83,852.73 167.75,852.57 170.00,852.20 C172.25,851.83 175.17,851.33 177.00,850.80 C178.83,850.27 179.73,849.80 181.00,849.00 C182.27,848.20 183.60,846.33 184.60,846.00 C185.60,845.67 186.20,846.53 187.00,847.00 C187.80,847.47 188.48,848.88 189.40,848.80 C190.32,848.72 191.40,847.63 192.50,846.50 C193.60,845.37 194.92,843.92 196.00,842.00 C197.08,840.08 198.00,838.17 199.00,835.00 C200.00,831.83 201.17,825.83 202.00,823.00 C202.83,820.17 203.37,819.12 204.00,818.00 C204.63,816.88 205.17,816.22 205.80,816.30 C206.43,816.38 207.18,817.22 207.80,818.50 C208.42,819.78 208.97,822.28 209.50,824.00 C210.03,825.72 210.42,828.22 211.00,828.80 C211.58,829.38 212.25,829.13 213.00,827.50 C213.75,825.87 214.67,822.25 215.50,819.00 C216.33,815.75 217.12,811.62 218.00,808.00 C218.88,804.38 220.10,796.97 220.80,797.30 C221.50,797.63 221.75,804.88 222.20,810.00 C222.65,815.12 223.12,823.63 223.50,828.00 C223.88,832.37 223.92,834.12 224.50,836.20 C225.08,838.28 226.00,839.43 227.00,840.50 C228.00,841.57 229.33,842.43 230.50,842.60 C231.67,842.77 232.92,842.02 234.00,841.50 C235.08,840.98 235.83,840.33 237.00,839.50 C238.17,838.67 240.33,837.00 241.00,836.50" fill="none" stroke="#78b040" stroke-width="1.2" stroke-linejoin="round"/>
<path d="M67.30,800.00 C67.50,803.83 68.13,817.50 68.50,823.00 C68.87,828.50 69.12,830.10 69.50,833.00 C69.88,835.90 70.33,838.32 70.80,840.40 C71.27,842.48 71.73,843.97 72.30,845.50 C72.87,847.03 73.53,848.47 74.20,849.60 C74.87,850.73 75.53,851.53 76.30,852.30 C77.07,853.07 77.93,853.67 78.80,854.20 C79.67,854.73 80.47,855.15 81.50,855.50 C82.53,855.85 83.25,856.15 85.00,856.30 C86.75,856.45 89.50,856.52 92.00,856.40 C94.50,856.28 98.17,855.67 100.00,855.60 C101.83,855.53 102.00,856.07 103.00,856.00 C104.00,855.93 105.03,855.50 106.00,855.20 C106.97,854.90 107.63,854.20 108.80,854.20 C109.97,854.20 111.27,854.97 113.00,855.20 C114.73,855.43 117.53,855.63 119.20,855.60 C120.87,855.57 121.72,855.17 123.00,855.00 C124.28,854.83 124.90,854.63 126.90,854.60 C128.90,854.57 131.48,854.87 135.00,854.80 C138.52,854.73 144.50,854.37 148.00,854.20 C151.50,854.03 153.42,854.00 156.00,853.80 C158.58,853.60 161.17,853.27 163.50,853.00 C165.83,852.73 167.75,852.57 170.00,852.20 C172.25,851.83 175.17,851.33 177.00,850.80 C178.83,850.27 180.33,849.20 181.00,849.00 C181.67,848.80 180.40,849.77 181.00,849.60 C181.60,849.43 183.60,848.02 184.60,848.00 C185.60,847.98 186.03,849.03 187.00,849.50 C187.97,849.97 189.07,850.63 190.40,850.80 C191.73,850.97 193.40,850.83 195.00,850.50 C196.60,850.17 198.33,849.47 200.00,848.80 C201.67,848.13 203.37,847.30 205.00,846.50 C206.63,845.70 208.13,844.75 209.80,844.00 C211.47,843.25 212.85,842.77 215.00,842.00 C217.15,841.23 221.12,840.15 222.70,839.40 C224.28,838.65 223.78,837.32 224.50,837.50 C225.22,837.68 226.00,839.65 227.00,840.50 C228.00,841.35 229.33,842.43 230.50,842.60 C231.67,842.77 232.92,842.02 234.00,841.50 C235.08,840.98 235.83,840.33 237.00,839.50 C238.17,838.67 240.33,837.00 241.00,836.50" fill="none" stroke="#151515" stroke-width="1.6" stroke-linejoin="round" stroke-dasharray="5,2"/>
<rect x="52.70" y="721.20" width="188.60" height="139.30" fill="none" stroke="#1a1a1a" stroke-width="1.6"/>
<text transform="translate(207.6,813.2) rotate(-90)" font-size="6.4" fill="#6cc030" font-weight="bold" textLength="9.3" lengthAdjust="spacingAndGlyphs">128</text>
<text transform="translate(222.6,794.8) rotate(-90)" font-size="6.4" fill="#6cc030" font-weight="bold" textLength="9.3" lengthAdjust="spacingAndGlyphs">140</text>
<path d="M201.30,765.60 L204.50,765.60 L204.50,775.20 L208.15,775.20 L202.90,791.50 L197.65,775.20 L201.30,775.20 Z" fill="#000"/>
<path d="M216.65,742.50 L219.95,742.50 L219.95,752.00 L223.60,752.00 L218.30,769.40 L213.00,752.00 L216.65,752.00 Z" fill="#000"/>
<line x1="326.40" y1="110.60" x2="512.80" y2="110.60" stroke="#f4f4f4" stroke-width="0.8"/>
<line x1="326.40" y1="135.25" x2="512.80" y2="135.25" stroke="#f4f4f4" stroke-width="0.8"/>
<line x1="326.40" y1="159.90" x2="512.80" y2="159.90" stroke="#f4f4f4" stroke-width="0.8"/>
<line x1="326.40" y1="184.55" x2="512.80" y2="184.55" stroke="#f4f4f4" stroke-width="0.8"/>
<line x1="326.40" y1="209.20" x2="512.80" y2="209.20" stroke="#f4f4f4" stroke-width="0.8"/>
<text x="326.2" y="102.30" font-size="5.6" fill="#333" font-weight="bold" textLength="6.6" lengthAdjust="spacingAndGlyphs">mV</text>
<text x="325.9" y="114.50" font-size="6" fill="#333" textLength="5.2" lengthAdjust="spacingAndGlyphs">50</text>
<text x="325.9" y="138.50" font-size="6" fill="#333" textLength="5.2" lengthAdjust="spacingAndGlyphs">40</text>
<text x="325.9" y="162.50" font-size="6" fill="#333" textLength="5.2" lengthAdjust="spacingAndGlyphs">30</text>
<text x="325.9" y="186.50" font-size="6" fill="#333" textLength="5.2" lengthAdjust="spacingAndGlyphs">20</text>
<text x="325.9" y="210.50" font-size="6" fill="#333" textLength="5.2" lengthAdjust="spacingAndGlyphs">10</text>
<text x="326.2" y="235.00" font-size="5.6" fill="#444">0</text>
<text x="288.66" y="116.72" font-size="18.08" font-weight="bold" fill="#111" stroke="#111" stroke-width="0.319" textLength="19.46" lengthAdjust="spacingAndGlyphs">50</text>
<rect x="314.30" y="110.80" width="4.70" height="2.30" fill="#111"/>
<text x="300.10" y="238.93" font-size="17.66" font-weight="bold" fill="#111" stroke="#111" stroke-width="0.312" textLength="9.82" lengthAdjust="spacingAndGlyphs">0</text>
<rect x="315.40" y="233.20" width="5.40" height="2.30" fill="#111"/>
<text transform="translate(308.10,175.39) rotate(-90)" x="0" y="0" font-size="19.62" font-weight="bold" fill="#111" stroke="#111" stroke-width="0.346" textLength="28.11" lengthAdjust="spacingAndGlyphs">mV</text>
<rect x="328.80" y="241.60" width="2.40" height="5.00" fill="#111"/>
<rect x="511.60" y="241.60" width="2.30" height="5.00" fill="#111"/>
<text x="405.45" y="118.42" font-size="18.71" font-weight="bold" fill="#111" stroke="#111" stroke-width="0.330" textLength="25.72" lengthAdjust="spacingAndGlyphs">5%</text>
<line x1="331.00" y1="95.60" x2="331.00" y2="233.40" stroke="#c08ad0" stroke-width="1.2" stroke-dasharray="3,1.5"/>
<line x1="329.80" y1="95.60" x2="329.80" y2="233.40" stroke="#d070b0" stroke-width="1.0" opacity="0.6"/>
<path d="M336.30,95.60 C336.40,101.33 336.68,119.27 336.90,130.00 C337.12,140.73 337.35,150.83 337.60,160.00 C337.85,169.17 338.12,177.57 338.40,185.00 C338.68,192.43 338.98,200.02 339.30,204.60 C339.62,209.18 339.92,210.20 340.30,212.50 C340.68,214.80 341.12,216.65 341.60,218.40 C342.08,220.15 342.63,221.65 343.20,223.00 C343.77,224.35 344.33,225.50 345.00,226.50 C345.67,227.50 346.42,228.32 347.20,229.00 C347.98,229.68 348.73,230.10 349.70,230.60 C350.67,231.10 351.85,231.62 353.00,232.00 C354.15,232.38 354.27,232.82 356.60,232.90 C358.93,232.98 363.10,232.62 367.00,232.50 C370.90,232.38 375.50,232.30 380.00,232.20 C384.50,232.10 390.33,232.07 394.00,231.90 C397.67,231.73 399.33,231.42 402.00,231.20 C404.67,230.98 407.00,230.77 410.00,230.60 C413.00,230.43 416.83,230.53 420.00,230.20 C423.17,229.87 426.17,229.00 429.00,228.60 C431.83,228.20 433.88,228.27 437.00,227.80 C440.12,227.33 445.03,226.35 447.70,225.80 C450.37,225.25 451.08,225.08 453.00,224.50 C454.92,223.92 457.52,222.92 459.20,222.30 C460.88,221.68 461.82,221.82 463.10,220.80 C464.38,219.78 465.62,218.25 466.90,216.20 C468.18,214.15 469.78,211.20 470.80,208.50 C471.82,205.80 472.22,203.25 473.00,200.00 C473.78,196.75 474.75,193.17 475.50,189.00 C476.25,184.83 476.88,178.92 477.50,175.00 C478.12,171.08 478.72,167.58 479.20,165.50 C479.68,163.42 479.97,162.58 480.40,162.50 C480.83,162.42 481.33,163.08 481.80,165.00 C482.27,166.92 482.73,170.83 483.20,174.00 C483.67,177.17 484.10,181.37 484.60,184.00 C485.10,186.63 485.67,189.30 486.20,189.80 C486.73,190.30 487.25,189.13 487.80,187.00 C488.35,184.87 488.93,181.00 489.50,177.00 C490.07,173.00 490.62,168.00 491.20,163.00 C491.78,158.00 492.45,151.67 493.00,147.00 C493.55,142.33 494.08,137.45 494.50,135.00 C494.92,132.55 495.18,131.47 495.50,132.30 C495.82,133.13 496.10,135.38 496.40,140.00 C496.70,144.62 497.02,153.33 497.30,160.00 C497.58,166.67 497.85,174.57 498.10,180.00 C498.35,185.43 498.48,188.77 498.80,192.60 C499.12,196.43 499.55,200.10 500.00,203.00 C500.45,205.90 500.88,207.72 501.50,210.00 C502.12,212.28 502.95,215.62 503.70,216.70 C504.45,217.78 505.20,216.85 506.00,216.50 C506.80,216.15 507.67,215.25 508.50,214.60 C509.33,213.95 510.25,213.20 511.00,212.60 C511.75,212.00 512.67,211.27 513.00,211.00" fill="none" stroke="#d070b0" stroke-width="1.1" stroke-linejoin="round"/>
<path d="M337.80,95.60 C337.90,101.33 338.18,119.27 338.40,130.00 C338.62,140.73 338.85,150.83 339.10,160.00 C339.35,169.17 339.69,177.57 339.90,185.00 C340.11,192.43 340.19,200.02 340.37,204.60 C340.55,209.18 340.71,210.20 340.98,212.50 C341.24,214.80 341.58,216.65 341.98,218.40 C342.38,220.15 342.85,221.65 343.35,223.00 C343.85,224.35 344.36,225.50 345.00,226.50 C345.64,227.50 346.42,228.32 347.20,229.00 C347.98,229.68 348.73,230.10 349.70,230.60 C350.67,231.10 351.85,231.62 353.00,232.00 C354.15,232.38 354.27,232.85 356.60,232.90 C358.93,232.95 363.10,232.48 367.00,232.30 C370.90,232.12 375.50,231.93 380.00,231.80 C384.50,231.67 390.33,231.77 394.00,231.50 C397.67,231.23 399.33,230.60 402.00,230.20 C404.67,229.80 407.00,229.37 410.00,229.10 C413.00,228.83 416.83,228.92 420.00,228.60 C423.17,228.28 426.17,227.53 429.00,227.20 C431.83,226.87 434.33,227.10 437.00,226.60 C439.67,226.10 442.83,224.98 445.00,224.20 C447.17,223.42 447.88,222.40 450.00,221.90 C452.12,221.40 455.53,221.32 457.70,221.20 C459.87,221.08 461.58,221.15 463.00,221.20 C464.42,221.25 464.90,221.95 466.20,221.50 C467.50,221.05 469.40,219.27 470.80,218.50 C472.20,217.73 473.20,217.82 474.60,216.90 C476.00,215.98 477.40,214.95 479.20,213.00 C481.00,211.05 483.60,206.73 485.40,205.20 C487.20,203.67 488.40,204.22 490.00,203.80 C491.60,203.38 493.75,203.67 495.00,202.70 C496.25,201.73 496.80,199.50 497.50,198.00 C498.20,196.50 498.62,193.53 499.20,193.70 C499.78,193.87 500.40,197.03 501.00,199.00 C501.60,200.97 502.20,204.00 502.80,205.50 C503.40,207.00 503.90,208.08 504.60,208.00 C505.30,207.92 506.10,206.33 507.00,205.00 C507.90,203.67 509.00,201.57 510.00,200.00 C511.00,198.43 512.50,196.33 513.00,195.60" fill="none" stroke="#4a4490" stroke-width="1.3" stroke-linejoin="round" stroke-dasharray="3.6,2"/>
<path d="M337.80,95.60 C337.90,101.33 338.18,119.27 338.40,130.00 C338.62,140.73 338.85,150.83 339.10,160.00 C339.35,169.17 339.69,177.57 339.90,185.00 C340.11,192.43 340.19,200.02 340.37,204.60 C340.55,209.18 340.71,210.20 340.98,212.50 C341.24,214.80 341.58,216.65 341.98,218.40 C342.38,220.15 342.85,221.65 343.35,223.00 C343.85,224.35 344.36,225.50 345.00,226.50 C345.64,227.50 346.42,228.32 347.20,229.00 C347.98,229.68 348.73,230.10 349.70,230.60 C350.67,231.10 351.85,231.62 353.00,232.00 C354.15,232.38 356.00,232.75 356.60,232.90" fill="none" stroke="#b890d8" stroke-width="1.6" stroke-linejoin="round" stroke-dasharray="3.6,2"/>
<rect x="325.50" y="94.60" width="188.30" height="142.00" fill="none" stroke="#1a1a1a" stroke-width="1.45"/>
<text transform="translate(482.40,160.40) rotate(-90)" font-size="6.3" fill="#b04a96" textLength="10" lengthAdjust="spacingAndGlyphs">128</text>
<text transform="translate(497.40,130.80) rotate(-90)" font-size="6.3" fill="#b04a96" textLength="10" lengthAdjust="spacingAndGlyphs">141</text>
<path d="M476.55,118.80 L480.05,118.80 L480.05,128.10 L483.85,128.10 L478.30,145.80 L472.75,128.10 L476.55,128.10 Z" fill="#000"/>
<path d="M492.85,95.50 L496.35,95.50 L496.35,105.00 L500.15,105.00 L494.60,121.90 L489.05,105.00 L492.85,105.00 Z" fill="#000"/>
<line x1="326.40" y1="304.60" x2="512.80" y2="304.60" stroke="#f4f4f4" stroke-width="0.8"/>
<line x1="326.40" y1="329.25" x2="512.80" y2="329.25" stroke="#f4f4f4" stroke-width="0.8"/>
<line x1="326.40" y1="353.90" x2="512.80" y2="353.90" stroke="#f4f4f4" stroke-width="0.8"/>
<line x1="326.40" y1="378.55" x2="512.80" y2="378.55" stroke="#f4f4f4" stroke-width="0.8"/>
<line x1="326.40" y1="403.20" x2="512.80" y2="403.20" stroke="#f4f4f4" stroke-width="0.8"/>
<text x="326.2" y="296.30" font-size="5.6" fill="#333" font-weight="bold" textLength="6.6" lengthAdjust="spacingAndGlyphs">mV</text>
<text x="325.9" y="308.50" font-size="6" fill="#333" textLength="5.2" lengthAdjust="spacingAndGlyphs">50</text>
<text x="325.9" y="332.50" font-size="6" fill="#333" textLength="5.2" lengthAdjust="spacingAndGlyphs">40</text>
<text x="325.9" y="356.50" font-size="6" fill="#333" textLength="5.2" lengthAdjust="spacingAndGlyphs">30</text>
<text x="325.9" y="380.50" font-size="6" fill="#333" textLength="5.2" lengthAdjust="spacingAndGlyphs">20</text>
<text x="325.9" y="404.50" font-size="6" fill="#333" textLength="5.2" lengthAdjust="spacingAndGlyphs">10</text>
<text x="326.2" y="429.00" font-size="5.6" fill="#444">0</text>
<text x="288.66" y="310.72" font-size="18.08" font-weight="bold" fill="#111" stroke="#111" stroke-width="0.319" textLength="19.46" lengthAdjust="spacingAndGlyphs">50</text>
<rect x="314.30" y="304.80" width="4.70" height="2.30" fill="#111"/>
<text x="300.10" y="432.93" font-size="17.66" font-weight="bold" fill="#111" stroke="#111" stroke-width="0.312" textLength="9.82" lengthAdjust="spacingAndGlyphs">0</text>
<rect x="315.40" y="427.20" width="5.40" height="2.30" fill="#111"/>
<text transform="translate(308.10,369.39) rotate(-90)" x="0" y="0" font-size="19.62" font-weight="bold" fill="#111" stroke="#111" stroke-width="0.346" textLength="28.11" lengthAdjust="spacingAndGlyphs">mV</text>
<rect x="328.80" y="435.60" width="2.40" height="5.00" fill="#111"/>
<rect x="511.60" y="435.60" width="2.30" height="5.00" fill="#111"/>
<text x="405.59" y="312.36" font-size="18.05" font-weight="bold" fill="#111" stroke="#111" stroke-width="0.319" textLength="25.47" lengthAdjust="spacingAndGlyphs">1%</text>
<line x1="331.00" y1="289.60" x2="331.00" y2="427.40" stroke="#7a6ee0" stroke-width="1.2" stroke-dasharray="3,1.5"/>
<line x1="329.80" y1="289.60" x2="329.80" y2="427.40" stroke="#7466d8" stroke-width="1.0" opacity="0.6"/>
<path d="M336.30,289.60 C336.40,295.33 336.68,313.27 336.90,324.00 C337.12,334.73 337.35,344.83 337.60,354.00 C337.85,363.17 338.12,371.57 338.40,379.00 C338.68,386.43 338.98,394.02 339.30,398.60 C339.62,403.18 339.92,404.20 340.30,406.50 C340.68,408.80 341.12,410.65 341.60,412.40 C342.08,414.15 342.63,415.65 343.20,417.00 C343.77,418.35 344.33,419.50 345.00,420.50 C345.67,421.50 346.42,422.32 347.20,423.00 C347.98,423.68 348.73,424.10 349.70,424.60 C350.67,425.10 351.85,425.62 353.00,426.00 C354.15,426.38 354.27,426.77 356.60,426.90 C358.93,427.03 363.10,426.85 367.00,426.80 C370.90,426.75 375.50,426.68 380.00,426.60 C384.50,426.52 389.00,426.58 394.00,426.30 C399.00,426.02 404.83,425.18 410.00,424.90 C415.17,424.62 420.07,424.77 425.00,424.60 C429.93,424.43 435.93,424.42 439.60,423.90 C443.27,423.38 444.53,422.38 447.00,421.50 C449.47,420.62 452.23,419.38 454.40,418.60 C456.57,417.82 458.07,417.52 460.00,416.80 C461.93,416.08 464.42,415.18 466.00,414.30 C467.58,413.42 468.43,412.72 469.50,411.50 C470.57,410.28 471.52,408.92 472.40,407.00 C473.28,405.08 474.03,402.50 474.80,400.00 C475.57,397.50 476.33,394.33 477.00,392.00 C477.67,389.67 478.23,387.53 478.80,386.00 C479.37,384.47 479.87,382.97 480.40,382.80 C480.93,382.63 481.48,383.72 482.00,385.00 C482.52,386.28 483.00,388.75 483.50,390.50 C484.00,392.25 484.55,394.42 485.00,395.50 C485.45,396.58 485.73,397.08 486.20,397.00 C486.67,396.92 487.23,396.33 487.80,395.00 C488.37,393.67 488.98,391.33 489.60,389.00 C490.22,386.67 490.87,383.67 491.50,381.00 C492.13,378.33 492.77,375.03 493.40,373.00 C494.03,370.97 494.78,368.80 495.30,368.80 C495.82,368.80 496.12,370.63 496.50,373.00 C496.88,375.37 497.25,379.83 497.60,383.00 C497.95,386.17 498.20,389.33 498.60,392.00 C499.00,394.67 499.43,396.83 500.00,399.00 C500.57,401.17 501.33,403.33 502.00,405.00 C502.67,406.67 503.42,408.07 504.00,409.00 C504.58,409.93 504.83,410.57 505.50,410.60 C506.17,410.63 507.17,409.88 508.00,409.20 C508.83,408.52 509.67,407.45 510.50,406.50 C511.33,405.55 512.58,404.00 513.00,403.50" fill="none" stroke="#7466d8" stroke-width="1.1" stroke-linejoin="round"/>
<path d="M337.80,289.60 C337.90,295.33 338.18,313.27 338.40,324.00 C338.62,334.73 338.85,344.83 339.10,354.00 C339.35,363.17 339.69,371.57 339.90,379.00 C340.11,386.43 340.19,394.02 340.37,398.60 C340.55,403.18 340.71,404.20 340.98,406.50 C341.24,408.80 341.58,410.65 341.98,412.40 C342.38,414.15 342.85,415.65 343.35,417.00 C343.85,418.35 344.36,419.50 345.00,420.50 C345.64,421.50 346.42,422.32 347.20,423.00 C347.98,423.68 348.73,424.10 349.70,424.60 C350.67,425.10 351.85,425.62 353.00,426.00 C354.15,426.38 354.27,426.80 356.60,426.90 C358.93,427.00 363.10,426.72 367.00,426.60 C370.90,426.48 375.50,426.37 380.00,426.20 C384.50,426.03 389.00,425.97 394.00,425.60 C399.00,425.23 404.83,424.43 410.00,424.00 C415.17,423.57 420.00,423.33 425.00,423.00 C430.00,422.67 436.33,422.57 440.00,422.00 C443.67,421.43 444.67,420.43 447.00,419.60 C449.33,418.77 451.83,417.77 454.00,417.00 C456.17,416.23 458.00,415.67 460.00,415.00 C462.00,414.33 464.12,413.47 466.00,413.00 C467.88,412.53 469.48,413.12 471.30,412.20 C473.12,411.28 475.48,408.55 476.90,407.50 C478.32,406.45 478.78,406.82 479.80,405.90 C480.82,404.98 481.93,403.17 483.00,402.00 C484.07,400.83 485.03,399.53 486.20,398.90 C487.37,398.27 488.60,398.45 490.00,398.20 C491.40,397.95 493.47,398.43 494.60,397.40 C495.73,396.37 496.07,393.68 496.80,392.00 C497.53,390.32 498.33,387.13 499.00,387.30 C499.67,387.47 500.20,390.97 500.80,393.00 C501.40,395.03 501.97,397.92 502.60,399.50 C503.23,401.08 503.87,402.50 504.60,402.50 C505.33,402.50 506.10,400.83 507.00,399.50 C507.90,398.17 509.00,396.08 510.00,394.50 C511.00,392.92 512.50,390.75 513.00,390.00" fill="none" stroke="#6a60b4" stroke-width="1.3" stroke-linejoin="round" stroke-dasharray="3.6,2"/>
<path d="M337.80,289.60 C337.90,295.33 338.18,313.27 338.40,324.00 C338.62,334.73 338.85,344.83 339.10,354.00 C339.35,363.17 339.69,371.57 339.90,379.00 C340.11,386.43 340.19,394.02 340.37,398.60 C340.55,403.18 340.71,404.20 340.98,406.50 C341.24,408.80 341.58,410.65 341.98,412.40 C342.38,414.15 342.85,415.65 343.35,417.00 C343.85,418.35 344.36,419.50 345.00,420.50 C345.64,421.50 346.42,422.32 347.20,423.00 C347.98,423.68 348.73,424.10 349.70,424.60 C350.67,425.10 351.85,425.62 353.00,426.00 C354.15,426.38 356.00,426.75 356.60,426.90" fill="none" stroke="#9a90e0" stroke-width="1.6" stroke-linejoin="round" stroke-dasharray="3.6,2"/>
<rect x="325.50" y="288.60" width="188.30" height="142.00" fill="none" stroke="#1a1a1a" stroke-width="1.45"/>
<text transform="translate(482.40,381.30) rotate(-90)" font-size="6.3" fill="#5a50c0" textLength="10" lengthAdjust="spacingAndGlyphs">127</text>
<text transform="translate(497.30,367.90) rotate(-90)" font-size="6.3" fill="#5a50c0" textLength="10" lengthAdjust="spacingAndGlyphs">141</text>
<path d="M476.35,336.00 L479.85,336.00 L479.85,345.60 L483.65,345.60 L478.10,362.50 L472.55,345.60 L476.35,345.60 Z" fill="#000"/>
<path d="M492.85,312.80 L496.35,312.80 L496.35,322.30 L500.15,322.30 L494.60,340.30 L489.05,322.30 L492.85,322.30 Z" fill="#000"/>
<line x1="326.40" y1="498.70" x2="512.80" y2="498.70" stroke="#f4f4f4" stroke-width="0.8"/>
<line x1="326.40" y1="523.35" x2="512.80" y2="523.35" stroke="#f4f4f4" stroke-width="0.8"/>
<line x1="326.40" y1="548.00" x2="512.80" y2="548.00" stroke="#f4f4f4" stroke-width="0.8"/>
<line x1="326.40" y1="572.65" x2="512.80" y2="572.65" stroke="#f4f4f4" stroke-width="0.8"/>
<line x1="326.40" y1="597.30" x2="512.80" y2="597.30" stroke="#f4f4f4" stroke-width="0.8"/>
<text x="326.2" y="490.40" font-size="5.6" fill="#333" font-weight="bold" textLength="6.6" lengthAdjust="spacingAndGlyphs">mV</text>
<text x="325.9" y="502.60" font-size="6" fill="#333" textLength="5.2" lengthAdjust="spacingAndGlyphs">50</text>
<text x="325.9" y="526.60" font-size="6" fill="#333" textLength="5.2" lengthAdjust="spacingAndGlyphs">40</text>
<text x="325.9" y="550.60" font-size="6" fill="#333" textLength="5.2" lengthAdjust="spacingAndGlyphs">30</text>
<text x="325.9" y="574.60" font-size="6" fill="#333" textLength="5.2" lengthAdjust="spacingAndGlyphs">20</text>
<text x="325.9" y="598.60" font-size="6" fill="#333" textLength="5.2" lengthAdjust="spacingAndGlyphs">10</text>
<text x="326.2" y="623.10" font-size="5.6" fill="#444">0</text>
<text x="288.66" y="504.82" font-size="18.08" font-weight="bold" fill="#111" stroke="#111" stroke-width="0.319" textLength="19.46" lengthAdjust="spacingAndGlyphs">50</text>
<rect x="314.30" y="498.90" width="4.70" height="2.30" fill="#111"/>
<text x="300.10" y="627.03" font-size="17.66" font-weight="bold" fill="#111" stroke="#111" stroke-width="0.312" textLength="9.82" lengthAdjust="spacingAndGlyphs">0</text>
<rect x="315.40" y="621.30" width="5.40" height="2.30" fill="#111"/>
<text transform="translate(308.10,563.49) rotate(-90)" x="0" y="0" font-size="19.62" font-weight="bold" fill="#111" stroke="#111" stroke-width="0.346" textLength="28.11" lengthAdjust="spacingAndGlyphs">mV</text>
<rect x="328.80" y="629.70" width="2.40" height="5.00" fill="#111"/>
<rect x="511.60" y="629.70" width="2.30" height="5.00" fill="#111"/>
<text x="399.50" y="507.02" font-size="18.08" font-weight="bold" fill="#111" stroke="#111" stroke-width="0.319" textLength="40.16" lengthAdjust="spacingAndGlyphs">0.5%</text>
<line x1="331.00" y1="483.70" x2="331.00" y2="621.50" stroke="#9aa4d4" stroke-width="1.2" stroke-dasharray="3,1.5"/>
<line x1="329.80" y1="483.70" x2="329.80" y2="621.50" stroke="#98d8c4" stroke-width="1.0" opacity="0.6"/>
<path d="M336.30,483.70 C336.40,489.43 336.68,507.37 336.90,518.10 C337.12,528.83 337.35,538.93 337.60,548.10 C337.85,557.27 338.12,565.67 338.40,573.10 C338.68,580.53 338.98,588.12 339.30,592.70 C339.62,597.28 339.92,598.30 340.30,600.60 C340.68,602.90 341.12,604.75 341.60,606.50 C342.08,608.25 342.63,609.75 343.20,611.10 C343.77,612.45 344.33,613.60 345.00,614.60 C345.67,615.60 346.42,616.42 347.20,617.10 C347.98,617.78 348.73,618.20 349.70,618.70 C350.67,619.20 351.85,619.72 353.00,620.10 C354.15,620.48 354.27,620.85 356.60,621.00 C358.93,621.15 363.10,621.03 367.00,621.00 C370.90,620.97 375.50,620.88 380.00,620.80 C384.50,620.72 389.00,620.97 394.00,620.50 C399.00,620.03 404.83,618.52 410.00,618.00 C415.17,617.48 419.72,617.67 425.00,617.40 C430.28,617.13 437.15,616.98 441.70,616.40 C446.25,615.82 449.25,614.40 452.30,613.90 C455.35,613.40 457.72,613.58 460.00,613.40 C462.28,613.22 464.33,613.87 466.00,612.80 C467.67,611.73 468.75,609.12 470.00,607.00 C471.25,604.88 472.33,602.02 473.50,600.10 C474.67,598.18 475.85,596.62 477.00,595.50 C478.15,594.38 479.40,593.57 480.40,593.40 C481.40,593.23 482.07,594.23 483.00,594.50 C483.93,594.77 485.00,595.33 486.00,595.00 C487.00,594.67 488.00,593.42 489.00,592.50 C490.00,591.58 490.70,590.73 492.00,589.50 C493.30,588.27 495.72,585.18 496.80,585.10 C497.88,585.02 497.88,587.02 498.50,589.00 C499.12,590.98 499.83,594.75 500.50,597.00 C501.17,599.25 501.82,601.30 502.50,602.50 C503.18,603.70 503.68,604.28 504.60,604.20 C505.52,604.12 506.67,602.87 508.00,602.00 C509.33,601.13 511.83,599.50 512.60,599.00" fill="none" stroke="#98d8c4" stroke-width="1.1" stroke-linejoin="round"/>
<path d="M337.80,483.70 C337.90,489.43 338.18,507.37 338.40,518.10 C338.62,528.83 338.85,538.93 339.10,548.10 C339.35,557.27 339.69,565.67 339.90,573.10 C340.11,580.53 340.19,588.12 340.37,592.70 C340.55,597.28 340.71,598.30 340.98,600.60 C341.24,602.90 341.58,604.75 341.98,606.50 C342.38,608.25 342.85,609.75 343.35,611.10 C343.85,612.45 344.36,613.60 345.00,614.60 C345.64,615.60 346.42,616.42 347.20,617.10 C347.98,617.78 348.73,618.20 349.70,618.70 C350.67,619.20 351.85,619.72 353.00,620.10 C354.15,620.48 354.27,620.90 356.60,621.00 C358.93,621.10 363.10,620.82 367.00,620.70 C370.90,620.58 375.50,620.43 380.00,620.30 C384.50,620.17 389.00,620.33 394.00,619.90 C399.00,619.47 404.83,618.25 410.00,617.70 C415.17,617.15 420.42,616.97 425.00,616.60 C429.58,616.23 434.33,616.18 437.50,615.50 C440.67,614.82 441.88,613.42 444.00,612.50 C446.12,611.58 448.03,610.53 450.20,610.00 C452.37,609.47 454.53,609.53 457.00,609.30 C459.47,609.07 462.83,609.10 465.00,608.60 C467.17,608.10 468.33,607.57 470.00,606.30 C471.67,605.03 473.27,602.72 475.00,601.00 C476.73,599.28 478.35,597.35 480.40,596.00 C482.45,594.65 484.85,593.85 487.30,592.90 C489.75,591.95 493.40,591.62 495.10,590.30 C496.80,588.98 496.78,586.58 497.50,585.00 C498.22,583.42 498.78,580.30 499.40,580.80 C500.02,581.30 500.63,585.80 501.20,588.00 C501.77,590.20 502.30,592.53 502.80,594.00 C503.30,595.47 503.50,596.88 504.20,596.80 C504.90,596.72 506.03,594.80 507.00,593.50 C507.97,592.20 509.10,590.47 510.00,589.00 C510.90,587.53 512.00,585.42 512.40,584.70" fill="none" stroke="#6a6498" stroke-width="1.3" stroke-linejoin="round" stroke-dasharray="3.6,2"/>
<path d="M337.80,483.70 C337.90,489.43 338.18,507.37 338.40,518.10 C338.62,528.83 338.85,538.93 339.10,548.10 C339.35,557.27 339.69,565.67 339.90,573.10 C340.11,580.53 340.19,588.12 340.37,592.70 C340.55,597.28 340.71,598.30 340.98,600.60 C341.24,602.90 341.58,604.75 341.98,606.50 C342.38,608.25 342.85,609.75 343.35,611.10 C343.85,612.45 344.36,613.60 345.00,614.60 C345.64,615.60 346.42,616.42 347.20,617.10 C347.98,617.78 348.73,618.20 349.70,618.70 C350.67,619.20 351.85,619.72 353.00,620.10 C354.15,620.48 356.00,620.85 356.60,621.00" fill="none" stroke="#8e88b8" stroke-width="1.6" stroke-linejoin="round" stroke-dasharray="3.6,2"/>
<rect x="325.50" y="482.70" width="188.30" height="142.00" fill="none" stroke="#1a1a1a" stroke-width="1.45"/>
<path d="M476.35,557.20 L479.85,557.20 L479.85,566.30 L483.65,566.30 L478.10,583.80 L472.55,566.30 L476.35,566.30 Z" fill="#000"/>
<path d="M492.85,534.50 L496.35,534.50 L496.35,543.00 L500.15,543.00 L494.60,561.00 L489.05,543.00 L492.85,543.00 Z" fill="#000"/>
<line x1="326.40" y1="692.90" x2="512.80" y2="692.90" stroke="#f4f4f4" stroke-width="0.8"/>
<line x1="326.40" y1="717.55" x2="512.80" y2="717.55" stroke="#f4f4f4" stroke-width="0.8"/>
<line x1="326.40" y1="742.20" x2="512.80" y2="742.20" stroke="#f4f4f4" stroke-width="0.8"/>
<line x1="326.40" y1="766.85" x2="512.80" y2="766.85" stroke="#f4f4f4" stroke-width="0.8"/>
<line x1="326.40" y1="791.50" x2="512.80" y2="791.50" stroke="#f4f4f4" stroke-width="0.8"/>
<text x="326.2" y="684.60" font-size="5.6" fill="#333" font-weight="bold" textLength="6.6" lengthAdjust="spacingAndGlyphs">mV</text>
<text x="325.9" y="696.80" font-size="6" fill="#333" textLength="5.2" lengthAdjust="spacingAndGlyphs">50</text>
<text x="325.9" y="720.80" font-size="6" fill="#333" textLength="5.2" lengthAdjust="spacingAndGlyphs">40</text>
<text x="325.9" y="744.80" font-size="6" fill="#333" textLength="5.2" lengthAdjust="spacingAndGlyphs">30</text>
<text x="325.9" y="768.80" font-size="6" fill="#333" textLength="5.2" lengthAdjust="spacingAndGlyphs">20</text>
<text x="325.9" y="792.80" font-size="6" fill="#333" textLength="5.2" lengthAdjust="spacingAndGlyphs">10</text>
<text x="326.2" y="817.30" font-size="5.6" fill="#444">0</text>
<text x="288.66" y="699.02" font-size="18.08" font-weight="bold" fill="#111" stroke="#111" stroke-width="0.319" textLength="19.46" lengthAdjust="spacingAndGlyphs">50</text>
<rect x="314.30" y="693.10" width="4.70" height="2.30" fill="#111"/>
<text x="300.10" y="821.23" font-size="17.66" font-weight="bold" fill="#111" stroke="#111" stroke-width="0.312" textLength="9.82" lengthAdjust="spacingAndGlyphs">0</text>
<rect x="315.40" y="815.50" width="5.40" height="2.30" fill="#111"/>
<text transform="translate(308.10,757.69) rotate(-90)" x="0" y="0" font-size="19.62" font-weight="bold" fill="#111" stroke="#111" stroke-width="0.346" textLength="28.11" lengthAdjust="spacingAndGlyphs">mV</text>
<rect x="328.80" y="823.90" width="2.40" height="5.00" fill="#111"/>
<rect x="511.60" y="823.90" width="2.30" height="5.00" fill="#111"/>
<text x="405.19" y="700.62" font-size="18.36" font-weight="bold" fill="#111" stroke="#111" stroke-width="0.324" textLength="25.88" lengthAdjust="spacingAndGlyphs">0%</text>
<line x1="331.00" y1="677.90" x2="331.00" y2="815.70" stroke="#8a7cc8" stroke-width="1.2" stroke-dasharray="3,1.5"/>
<path d="M337.80,677.90 C337.90,683.63 338.18,701.57 338.40,712.30 C338.62,723.03 338.85,733.13 339.10,742.30 C339.35,751.47 339.69,759.87 339.90,767.30 C340.11,774.73 340.19,782.32 340.37,786.90 C340.55,791.48 340.71,792.50 340.98,794.80 C341.24,797.10 341.58,798.95 341.98,800.70 C342.38,802.45 342.85,803.95 343.35,805.30 C343.85,806.65 344.36,807.80 345.00,808.80 C345.64,809.80 346.42,810.62 347.20,811.30 C347.98,811.98 348.73,812.40 349.70,812.90 C350.67,813.40 351.85,813.92 353.00,814.30 C354.15,814.68 354.27,815.10 356.60,815.20 C358.93,815.30 363.10,815.02 367.00,814.90 C370.90,814.78 375.50,814.63 380.00,814.50 C384.50,814.37 389.00,814.63 394.00,814.10 C399.00,813.57 404.83,811.88 410.00,811.30 C415.17,810.72 420.42,810.85 425.00,810.60 C429.58,810.35 434.33,810.43 437.50,809.80 C440.67,809.17 441.88,807.72 444.00,806.80 C446.12,805.88 448.03,804.80 450.20,804.30 C452.37,803.80 454.53,803.95 457.00,803.80 C459.47,803.65 462.67,803.90 465.00,803.40 C467.33,802.90 468.88,801.78 471.00,800.80 C473.12,799.82 475.95,798.88 477.70,797.50 C479.45,796.12 480.27,794.25 481.50,792.50 C482.73,790.75 483.68,788.08 485.10,787.00 C486.52,785.92 488.42,786.30 490.00,786.00 C491.58,785.70 493.40,786.20 494.60,785.20 C495.80,784.20 496.42,781.65 497.20,780.00 C497.98,778.35 498.63,774.80 499.30,775.30 C499.97,775.80 500.62,780.80 501.20,783.00 C501.78,785.20 502.32,787.22 502.80,788.50 C503.28,789.78 503.40,790.87 504.10,790.70 C504.80,790.53 506.02,788.87 507.00,787.50 C507.98,786.13 509.00,784.18 510.00,782.50 C511.00,780.82 512.50,778.25 513.00,777.40" fill="none" stroke="#8470c0" stroke-width="1.3" stroke-linejoin="round" stroke-dasharray="3.6,2"/>
<path d="M337.80,677.90 C337.90,683.63 338.18,701.57 338.40,712.30 C338.62,723.03 338.85,733.13 339.10,742.30 C339.35,751.47 339.69,759.87 339.90,767.30 C340.11,774.73 340.19,782.32 340.37,786.90 C340.55,791.48 340.71,792.50 340.98,794.80 C341.24,797.10 341.58,798.95 341.98,800.70 C342.38,802.45 342.85,803.95 343.35,805.30 C343.85,806.65 344.36,807.80 345.00,808.80 C345.64,809.80 346.42,810.62 347.20,811.30 C347.98,811.98 348.73,812.40 349.70,812.90 C350.67,813.40 351.85,813.92 353.00,814.30 C354.15,814.68 356.00,815.05 356.60,815.20" fill="none" stroke="#9a8cd0" stroke-width="1.6" stroke-linejoin="round" stroke-dasharray="3.6,2"/>
<line x1="326.40" y1="815.60" x2="512.80" y2="815.60" stroke="#5fb87a" stroke-width="0.9"/>
<rect x="325.50" y="676.90" width="188.30" height="142.00" fill="none" stroke="#1a1a1a" stroke-width="1.45"/>
<path d="M476.35,756.30 L479.85,756.30 L479.85,765.40 L483.65,765.40 L478.10,782.70 L472.55,765.40 L476.35,765.40 Z" fill="#000"/>
<path d="M492.85,733.00 L496.35,733.00 L496.35,742.00 L500.15,742.00 L494.60,759.40 L489.05,742.00 L492.85,742.00 Z" fill="#000"/>
<text x="326.17" y="851.02" font-size="17.94" font-weight="bold" fill="#111" stroke="#111" stroke-width="0.317" textLength="10.29" lengthAdjust="spacingAndGlyphs">0</text>
<text x="509.50" y="851.04" font-size="16.38" font-weight="bold" fill="#111" stroke="#111" stroke-width="0.289" textLength="8.67" lengthAdjust="spacingAndGlyphs">8</text>
<text x="377.00" y="847.30" font-size="17.88" font-weight="bold" fill="#111" stroke="#111" stroke-width="0.315" textLength="88.58" lengthAdjust="spacingAndGlyphs">Time [min]</text>
</svg>
</body></html>
